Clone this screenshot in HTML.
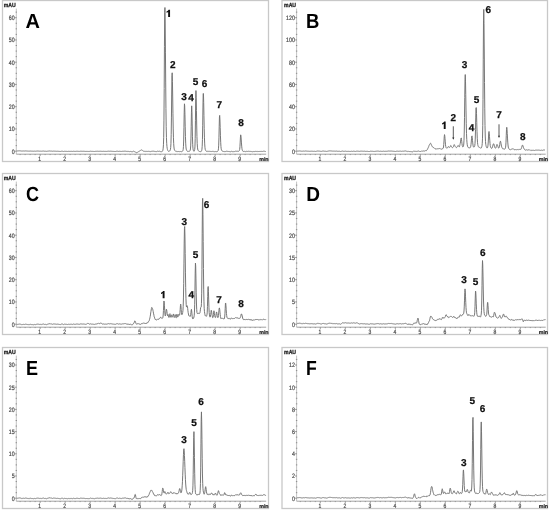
<!DOCTYPE html>
<html><head><meta charset="utf-8"><style>
html,body{margin:0;padding:0;background:#fff;}
body{width:550px;height:510px;overflow:hidden;}
svg{display:block;filter:grayscale(1);}
text{font-family:"Liberation Sans", sans-serif;text-rendering:geometricPrecision;}
.mau{font-size:5.9px;font-weight:bold;fill:#222;stroke:#222;stroke-width:0.3;}
.big{font-size:20.5px;font-weight:bold;fill:#000;}
.tl{font-size:6.3px;fill:#4a4a4a;stroke:#4a4a4a;stroke-width:0.2;}
.minl{font-size:5.3px;font-weight:bold;fill:#222;stroke:#222;stroke-width:0.2;}
.pl{font-size:10px;font-weight:bold;fill:#111;stroke:#111;stroke-width:0.25;}
.ax{stroke:#999;stroke-width:0.9;}
.yax{stroke:#bbb;stroke-width:0.9;}
.tk{stroke:#777;stroke-width:0.7;fill:none;}
.tr{stroke:#707070;stroke-width:0.95;fill:none;stroke-linejoin:round;}
.arw{stroke:#222;stroke-width:0.75;}
</style></head><body>
<svg width="550" height="510" viewBox="0 0 550 510">
<rect width="550" height="510" fill="#fff"/>
<rect x="2.50" y="0.50" width="266.00" height="161" fill="none" stroke="#c8c8c8" stroke-width="1.3"/>
<text transform="translate(3.80 7.40) scale(0.87 1)" class="mau">mAU</text>
<text transform="translate(25.60 28.00) scale(0.975 1)" class="big">A</text>
<line x1="16.30" y1="8.60" x2="16.30" y2="154.20" class="yax"/>
<text transform="translate(14.60 20.00) scale(0.84 1)" class="tl" text-anchor="end">60</text>
<text transform="translate(14.60 42.25) scale(0.84 1)" class="tl" text-anchor="end">50</text>
<text transform="translate(14.60 64.50) scale(0.84 1)" class="tl" text-anchor="end">40</text>
<text transform="translate(14.60 86.75) scale(0.84 1)" class="tl" text-anchor="end">30</text>
<text transform="translate(14.60 109.00) scale(0.84 1)" class="tl" text-anchor="end">20</text>
<text transform="translate(14.60 131.25) scale(0.84 1)" class="tl" text-anchor="end">10</text>
<text transform="translate(14.60 153.50) scale(0.84 1)" class="tl" text-anchor="end">0</text>
<line x1="16.30" y1="154.20" x2="266.20" y2="154.20" class="ax"/>
<text transform="translate(39.70 160.80) scale(0.8 1)" class="tl" text-anchor="middle">1</text>
<text transform="translate(64.70 160.80) scale(0.8 1)" class="tl" text-anchor="middle">2</text>
<text transform="translate(89.70 160.80) scale(0.8 1)" class="tl" text-anchor="middle">3</text>
<text transform="translate(114.70 160.80) scale(0.8 1)" class="tl" text-anchor="middle">4</text>
<text transform="translate(139.70 160.80) scale(0.8 1)" class="tl" text-anchor="middle">5</text>
<text transform="translate(164.70 160.80) scale(0.8 1)" class="tl" text-anchor="middle">6</text>
<text transform="translate(189.70 160.80) scale(0.8 1)" class="tl" text-anchor="middle">7</text>
<text transform="translate(214.70 160.80) scale(0.8 1)" class="tl" text-anchor="middle">8</text>
<text transform="translate(239.70 160.80) scale(0.8 1)" class="tl" text-anchor="middle">9</text>
<path d="M14.70 17.70H16.70 M15.60 23.26H17.00 M15.60 28.83H17.00 M15.60 34.39H17.00 M14.70 39.95H16.70 M15.60 45.51H17.00 M15.60 51.08H17.00 M15.60 56.64H17.00 M14.70 62.20H16.70 M15.60 67.76H17.00 M15.60 73.33H17.00 M15.60 78.89H17.00 M14.70 84.45H16.70 M15.60 90.01H17.00 M15.60 95.58H17.00 M15.60 101.14H17.00 M14.70 106.70H16.70 M15.60 112.26H17.00 M15.60 117.82H17.00 M15.60 123.39H17.00 M14.70 128.95H16.70 M15.60 134.51H17.00 M15.60 140.07H17.00 M15.60 145.64H17.00 M14.70 151.20H16.70 M15.60 12.14H17.00 M40.15 154.20V156.00 M65.15 154.20V156.00 M90.15 154.20V156.00 M115.15 154.20V156.00 M140.15 154.20V156.00 M165.15 154.20V156.00 M190.15 154.20V156.00 M215.15 154.20V156.00 M240.15 154.20V156.00 M20.15 154.20V155.10 M25.15 154.20V155.10 M30.15 154.20V155.10 M35.15 154.20V155.10 M45.15 154.20V155.10 M50.15 154.20V155.10 M55.15 154.20V155.10 M60.15 154.20V155.10 M70.15 154.20V155.10 M75.15 154.20V155.10 M80.15 154.20V155.10 M85.15 154.20V155.10 M95.15 154.20V155.10 M100.15 154.20V155.10 M105.15 154.20V155.10 M110.15 154.20V155.10 M120.15 154.20V155.10 M125.15 154.20V155.10 M130.15 154.20V155.10 M135.15 154.20V155.10 M145.15 154.20V155.10 M150.15 154.20V155.10 M155.15 154.20V155.10 M160.15 154.20V155.10 M170.15 154.20V155.10 M175.15 154.20V155.10 M180.15 154.20V155.10 M185.15 154.20V155.10 M195.15 154.20V155.10 M200.15 154.20V155.10 M205.15 154.20V155.10 M210.15 154.20V155.10 M220.15 154.20V155.10 M225.15 154.20V155.10 M230.15 154.20V155.10 M235.15 154.20V155.10 M245.15 154.20V155.10 M250.15 154.20V155.10 M255.15 154.20V155.10 M260.15 154.20V155.10" class="tk"/>
<text x="259.20" y="160.80" class="minl">min</text>
<path d="M16.70 150.98 L16.95 150.93 L17.20 150.97 L17.45 150.92 L17.70 150.94 L17.95 150.94 L18.20 150.89 L18.45 150.92 L18.70 150.87 L18.95 150.89 L19.20 150.86 L19.45 150.83 L19.70 150.86 L19.95 150.94 L20.20 150.91 L20.45 150.89 L20.70 150.94 L20.95 151.02 L21.20 151.04 L21.45 151.02 L21.70 151.10 L21.95 151.02 L22.20 151.08 L22.45 151.04 L22.70 150.99 L22.95 150.95 L23.20 150.94 L23.45 151.01 L23.70 150.97 L23.95 151.00 L24.20 151.03 L24.45 151.02 L24.70 151.04 L24.95 150.98 L25.20 150.93 L25.45 150.92 L25.70 150.97 L25.95 150.98 L26.20 150.97 L26.45 151.01 L26.70 151.01 L26.95 151.00 L27.20 151.06 L27.45 151.09 L27.70 151.05 L27.95 151.07 L28.20 151.08 L28.45 151.13 L28.70 151.16 L28.95 151.11 L29.20 151.18 L29.45 151.11 L29.70 151.09 L29.95 151.13 L30.20 151.08 L30.45 151.08 L30.70 151.02 L30.95 151.06 L31.20 151.11 L31.45 151.12 L31.70 151.17 L31.95 151.13 L32.20 151.16 L32.45 151.16 L32.70 151.17 L32.95 151.15 L33.20 151.19 L33.45 151.24 L33.70 151.22 L33.95 151.22 L34.20 151.14 L34.45 151.17 L34.70 151.18 L34.95 151.24 L35.20 151.27 L35.45 151.21 L35.70 151.18 L35.95 151.20 L36.20 151.12 L36.45 151.12 L36.70 151.08 L36.95 151.03 L37.20 150.99 L37.45 151.06 L37.70 151.03 L37.95 151.02 L38.20 151.03 L38.45 151.11 L38.70 151.06 L38.95 151.07 L39.20 151.10 L39.45 151.17 L39.70 151.21 L39.95 151.26 L40.20 151.21 L40.45 151.19 L40.70 151.16 L40.95 151.22 L41.20 151.28 L41.45 151.21 L41.70 151.16 L41.95 151.12 L42.20 151.10 L42.45 151.11 L42.70 151.14 L42.95 151.12 L43.20 151.06 L43.45 151.07 L43.70 151.08 L43.95 151.11 L44.20 151.19 L44.45 151.22 L44.70 151.22 L44.95 151.23 L45.20 151.25 L45.45 151.18 L45.70 151.24 L45.95 151.28 L46.20 151.32 L46.45 151.34 L46.70 151.30 L46.95 151.27 L47.20 151.20 L47.45 151.22 L47.70 151.16 L47.95 151.11 L48.20 151.09 L48.45 151.07 L48.70 151.08 L48.95 151.05 L49.20 151.01 L49.45 151.01 L49.70 150.99 L49.95 151.02 L50.20 151.00 L50.45 151.10 L50.70 151.15 L50.95 151.11 L51.20 151.11 L51.45 151.11 L51.70 151.12 L51.95 151.09 L52.20 151.17 L52.45 151.26 L52.70 151.26 L52.95 151.25 L53.20 151.20 L53.45 151.15 L53.70 151.15 L53.95 151.14 L54.20 151.21 L54.45 151.18 L54.70 151.13 L54.95 151.22 L55.20 151.23 L55.45 151.19 L55.70 151.22 L55.95 151.16 L56.20 151.19 L56.45 151.28 L56.70 151.33 L56.95 151.35 L57.20 151.30 L57.45 151.28 L57.70 151.23 L57.95 151.29 L58.20 151.29 L58.45 151.33 L58.70 151.30 L58.95 151.26 L59.20 151.31 L59.45 151.38 L59.70 151.42 L59.95 151.44 L60.20 151.46 L60.45 151.46 L60.70 151.39 L60.95 151.38 L61.20 151.34 L61.45 151.26 L61.70 151.20 L61.95 151.19 L62.20 151.18 L62.45 151.23 L62.70 151.31 L62.95 151.30 L63.20 151.37 L63.45 151.43 L63.70 151.47 L63.95 151.42 L64.20 151.35 L64.45 151.30 L64.70 151.26 L64.95 151.23 L65.20 151.26 L65.45 151.33 L65.70 151.37 L65.95 151.36 L66.20 151.37 L66.45 151.40 L66.70 151.32 L66.95 151.34 L67.20 151.40 L67.45 151.42 L67.70 151.43 L67.95 151.41 L68.20 151.34 L68.45 151.38 L68.70 151.34 L68.95 151.38 L69.20 151.43 L69.45 151.39 L69.70 151.36 L69.95 151.42 L70.20 151.43 L70.45 151.36 L70.70 151.30 L70.95 151.25 L71.20 151.32 L71.45 151.37 L71.70 151.30 L71.95 151.35 L72.20 151.42 L72.45 151.42 L72.70 151.38 L72.95 151.37 L73.20 151.31 L73.45 151.24 L73.70 151.32 L73.95 151.35 L74.20 151.34 L74.45 151.40 L74.70 151.38 L74.95 151.42 L75.20 151.45 L75.45 151.38 L75.70 151.33 L75.95 151.30 L76.20 151.27 L76.45 151.29 L76.70 151.26 L76.95 151.26 L77.20 151.22 L77.45 151.30 L77.70 151.29 L77.95 151.29 L78.20 151.31 L78.45 151.37 L78.70 151.35 L78.95 151.41 L79.20 151.39 L79.45 151.38 L79.70 151.37 L79.95 151.30 L80.20 151.29 L80.45 151.26 L80.70 151.20 L80.95 151.27 L81.20 151.23 L81.45 151.25 L81.70 151.30 L81.95 151.31 L82.20 151.29 L82.45 151.30 L82.70 151.32 L82.95 151.36 L83.20 151.30 L83.45 151.31 L83.70 151.28 L83.95 151.26 L84.20 151.31 L84.45 151.32 L84.70 151.33 L84.95 151.37 L85.20 151.42 L85.45 151.40 L85.70 151.40 L85.95 151.39 L86.20 151.38 L86.45 151.40 L86.70 151.38 L86.95 151.38 L87.20 151.37 L87.45 151.42 L87.70 151.44 L87.95 151.47 L88.20 151.51 L88.45 151.44 L88.70 151.43 L88.95 151.47 L89.20 151.50 L89.45 151.41 L89.70 151.34 L89.95 151.34 L90.20 151.28 L90.45 151.25 L90.70 151.21 L90.95 151.26 L91.20 151.32 L91.45 151.38 L91.70 151.32 L91.95 151.36 L92.20 151.38 L92.45 151.32 L92.70 151.38 L92.95 151.44 L93.20 151.38 L93.45 151.44 L93.70 151.41 L93.95 151.39 L94.20 151.45 L94.45 151.48 L94.70 151.41 L94.95 151.38 L95.20 151.38 L95.45 151.35 L95.70 151.31 L95.95 151.29 L96.20 151.33 L96.45 151.27 L96.70 151.29 L96.95 151.30 L97.20 151.24 L97.45 151.24 L97.70 151.28 L97.95 151.29 L98.20 151.24 L98.45 151.33 L98.70 151.38 L98.95 151.44 L99.20 151.37 L99.45 151.33 L99.70 151.27 L99.95 151.33 L100.20 151.30 L100.45 151.26 L100.70 151.27 L100.95 151.34 L101.20 151.39 L101.45 151.35 L101.70 151.30 L101.95 151.37 L102.20 151.38 L102.45 151.40 L102.70 151.34 L102.95 151.28 L103.20 151.32 L103.45 151.32 L103.70 151.26 L103.95 151.35 L104.20 151.37 L104.45 151.41 L104.70 151.34 L104.95 151.40 L105.20 151.33 L105.45 151.39 L105.70 151.38 L105.95 151.35 L106.20 151.36 L106.45 151.42 L106.70 151.38 L106.95 151.32 L107.20 151.33 L107.45 151.30 L107.70 151.26 L107.95 151.23 L108.20 151.19 L108.45 151.19 L108.70 151.19 L108.95 151.20 L109.20 151.27 L109.45 151.26 L109.70 151.28 L109.95 151.25 L110.20 151.25 L110.45 151.21 L110.70 151.20 L110.95 151.17 L111.20 151.24 L111.45 151.28 L111.70 151.25 L111.95 151.27 L112.20 151.35 L112.45 151.30 L112.70 151.36 L112.95 151.35 L113.20 151.36 L113.45 151.41 L113.70 151.39 L113.95 151.38 L114.20 151.41 L114.45 151.47 L114.70 151.43 L114.95 151.47 L115.20 151.48 L115.45 151.48 L115.70 151.44 L115.95 151.41 L116.20 151.34 L116.45 151.29 L116.70 151.25 L116.95 151.31 L117.20 151.29 L117.45 151.26 L117.70 151.22 L117.95 151.30 L118.20 151.37 L118.45 151.40 L118.70 151.36 L118.95 151.33 L119.20 151.31 L119.45 151.32 L119.70 151.28 L119.95 151.29 L120.20 151.28 L120.45 151.37 L120.70 151.44 L120.95 151.43 L121.20 151.39 L121.45 151.45 L121.70 151.41 L121.95 151.39 L122.20 151.31 L122.45 151.31 L122.70 151.32 L122.95 151.34 L123.20 151.30 L123.45 151.32 L123.70 151.26 L123.95 151.25 L124.20 151.22 L124.45 151.24 L124.70 151.20 L124.95 151.17 L125.20 151.19 L125.45 151.19 L125.70 151.24 L125.95 151.28 L126.20 151.33 L126.45 151.37 L126.70 151.40 L126.95 151.46 L127.20 151.41 L127.45 151.35 L127.70 151.51 L127.95 151.38 L128.20 151.45 L128.45 151.49 L128.70 151.32 L128.95 151.44 L129.20 151.56 L129.45 151.57 L129.70 151.61 L129.95 151.67 L130.20 151.50 L130.45 151.48 L130.70 151.47 L130.95 151.56 L131.20 151.63 L131.45 151.68 L131.70 151.65 L131.95 151.73 L132.20 151.72 L132.45 151.72 L132.70 151.57 L132.95 151.39 L133.20 151.29 L133.45 151.28 L133.70 151.21 L133.95 151.40 L134.20 151.49 L134.45 151.61 L134.70 151.74 L134.95 151.90 L135.20 152.02 L135.45 151.99 L135.70 152.26 L135.95 152.48 L136.20 152.57 L136.45 152.64 L136.70 152.71 L136.95 152.52 L137.20 152.53 L137.45 152.33 L137.70 152.07 L137.95 151.87 L138.20 151.83 L138.45 151.60 L138.70 151.56 L138.95 151.57 L139.20 151.39 L139.45 151.16 L139.70 150.94 L139.95 150.78 L140.20 150.63 L140.45 150.43 L140.70 150.28 L140.95 150.02 L141.20 149.89 L141.45 149.89 L141.70 150.11 L141.95 150.20 L142.20 150.42 L142.45 150.45 L142.70 150.52 L142.95 150.66 L143.20 150.90 L143.45 151.10 L143.70 151.25 L143.95 151.24 L144.20 151.29 L144.45 151.32 L144.70 151.33 L144.95 151.23 L145.20 151.39 L145.45 151.30 L145.70 151.48 L145.95 151.60 L146.20 151.41 L146.45 151.40 L146.70 151.50 L146.95 151.63 L147.20 151.57 L147.45 151.47 L147.70 151.36 L147.95 151.52 L148.20 151.40 L148.45 151.43 L148.70 151.31 L148.95 151.34 L149.20 151.50 L149.45 151.36 L149.70 151.48 L149.95 151.47 L150.20 151.58 L150.45 151.61 L150.70 151.49 L150.95 151.60 L151.20 151.56 L151.45 151.38 L151.70 151.23 L151.95 151.26 L152.20 151.28 L152.45 151.24 L152.70 151.16 L152.95 151.16 L153.20 151.15 L153.45 151.31 L153.70 151.18 L153.95 151.30 L154.20 151.43 L154.45 151.31 L154.70 151.47 L154.95 151.53 L155.20 151.63 L155.45 151.52 L155.70 151.46 L155.95 151.42 L156.20 151.58 L156.45 151.57 L156.70 151.50 L156.95 151.46 L157.20 151.38 L157.45 151.24 L157.70 151.15 L157.95 151.31 L158.20 151.26 L158.45 151.43 L158.70 151.35 L158.95 151.29 L159.20 151.32 L159.45 151.24 L159.70 151.24 L159.95 151.42 L160.20 151.54 L160.45 151.62 L160.70 151.62 L160.95 151.71 L161.20 151.79 L161.45 151.73 L161.70 151.72 L161.95 151.48 L162.20 151.44 L162.45 151.18 L162.70 150.79 L162.95 149.95 L163.20 148.23 L163.45 144.76 L163.70 137.32 L163.95 120.13 L164.20 88.55 L164.45 46.33 L164.70 12.44 L164.95 7.52 L165.20 23.99 L165.45 52.13 L165.70 82.95 L165.95 108.72 L166.20 126.69 L166.45 137.47 L166.70 143.34 L166.95 146.49 L167.20 148.28 L167.45 149.58 L167.70 150.31 L167.95 150.67 L168.20 151.11 L168.45 151.42 L168.70 151.45 L168.95 151.35 L169.20 151.26 L169.45 151.12 L169.70 151.00 L169.95 150.67 L170.20 150.19 L170.45 149.29 L170.70 147.58 L170.95 143.61 L171.20 134.39 L171.45 117.10 L171.70 94.04 L171.95 75.57 L172.20 72.79 L172.45 81.66 L172.70 96.97 L172.95 113.75 L173.20 128.06 L173.45 137.76 L173.70 143.70 L173.95 147.03 L174.20 148.92 L174.45 149.82 L174.70 150.37 L174.95 150.69 L175.20 150.94 L175.45 151.10 L175.70 151.36 L175.95 151.52 L176.20 151.63 L176.45 151.45 L176.70 151.30 L176.95 151.40 L177.20 151.53 L177.45 151.50 L177.70 151.52 L177.95 151.34 L178.20 151.33 L178.45 151.48 L178.70 151.58 L178.95 151.66 L179.20 151.77 L179.45 151.62 L179.70 151.46 L179.95 151.34 L180.20 151.37 L180.45 151.44 L180.70 151.58 L180.95 151.62 L181.20 151.63 L181.45 151.68 L181.70 151.61 L181.95 151.57 L182.20 151.33 L182.45 151.30 L182.70 150.94 L182.95 150.55 L183.20 149.46 L183.45 146.62 L183.70 139.97 L183.95 127.73 L184.20 112.74 L184.45 103.80 L184.70 105.92 L184.95 114.71 L185.20 126.21 L185.45 136.32 L185.70 143.15 L185.95 146.97 L186.20 149.03 L186.45 149.90 L186.70 150.43 L186.95 150.79 L187.20 151.18 L187.45 151.34 L187.70 151.52 L187.95 151.52 L188.20 151.43 L188.45 151.35 L188.70 151.52 L188.95 151.56 L189.20 151.45 L189.45 151.22 L189.70 151.11 L189.95 150.90 L190.20 150.31 L190.45 148.98 L190.70 145.93 L190.95 138.88 L191.20 126.26 L191.45 112.19 L191.70 105.83 L191.95 111.31 L192.20 123.95 L192.45 136.18 L192.70 144.27 L192.95 148.26 L193.20 149.94 L193.45 150.60 L193.70 151.13 L193.95 151.19 L194.20 151.21 L194.45 150.70 L194.70 149.60 L194.95 146.91 L195.20 138.68 L195.45 120.79 L195.70 98.38 L195.95 90.57 L196.20 97.29 L196.45 110.62 L196.70 125.04 L196.95 136.46 L197.20 143.40 L197.45 147.17 L197.70 149.00 L197.95 150.17 L198.20 150.61 L198.45 150.82 L198.70 150.91 L198.95 151.05 L199.20 151.30 L199.45 151.47 L199.70 151.55 L199.95 151.69 L200.20 151.78 L200.45 151.65 L200.70 151.49 L200.95 151.56 L201.20 151.47 L201.45 150.99 L201.70 150.47 L201.95 149.24 L202.20 146.38 L202.45 139.47 L202.70 125.74 L202.95 107.04 L203.20 93.41 L203.45 93.59 L203.70 102.52 L203.95 115.36 L204.20 128.26 L204.45 137.84 L204.70 143.90 L204.95 147.40 L205.20 149.26 L205.45 150.16 L205.70 150.56 L205.95 150.90 L206.20 151.08 L206.45 151.36 L206.70 151.32 L206.95 151.33 L207.20 151.49 L207.45 151.34 L207.70 151.34 L207.95 151.46 L208.20 151.55 L208.45 151.38 L208.70 151.25 L208.95 151.15 L209.20 151.35 L209.45 151.29 L209.70 151.40 L209.95 151.54 L210.20 151.47 L210.45 151.40 L210.70 151.56 L210.95 151.57 L211.20 151.48 L211.45 151.54 L211.70 151.47 L211.95 151.39 L212.20 151.25 L212.45 151.37 L212.70 151.52 L212.95 151.55 L213.20 151.68 L213.45 151.48 L213.70 151.39 L213.95 151.40 L214.20 151.56 L214.45 151.68 L214.70 151.60 L214.95 151.50 L215.20 151.47 L215.45 151.46 L215.70 151.60 L215.95 151.47 L216.20 151.57 L216.45 151.62 L216.70 151.69 L216.95 151.72 L217.20 151.67 L217.45 151.50 L217.70 151.26 L217.95 150.91 L218.20 150.38 L218.45 148.80 L218.70 145.17 L218.95 137.82 L219.20 126.66 L219.45 116.99 L219.70 115.40 L219.95 119.99 L220.20 127.61 L220.45 135.79 L220.70 142.28 L220.95 146.56 L221.20 148.77 L221.45 149.85 L221.70 150.38 L221.95 150.78 L222.20 151.10 L222.45 151.23 L222.70 151.24 L222.95 151.29 L223.20 151.38 L223.45 151.46 L223.70 151.55 L223.95 151.64 L224.20 151.66 L224.45 151.50 L224.70 151.61 L224.95 151.51 L225.20 151.53 L225.45 151.47 L225.70 151.55 L225.95 151.44 L226.20 151.36 L226.45 151.30 L226.70 151.23 L226.95 151.40 L227.20 151.44 L227.45 151.39 L227.70 151.37 L227.95 151.55 L228.20 151.54 L228.45 151.44 L228.70 151.54 L228.95 151.58 L229.20 151.71 L229.45 151.54 L229.70 151.52 L229.95 151.61 L230.20 151.69 L230.45 151.78 L230.70 151.57 L230.95 151.49 L231.20 151.36 L231.45 151.29 L231.70 151.48 L231.95 151.50 L232.20 151.63 L232.45 151.56 L232.70 151.66 L232.95 151.61 L233.20 151.51 L233.45 151.59 L233.70 151.71 L233.95 151.54 L234.20 151.56 L234.45 151.58 L234.70 151.47 L234.95 151.43 L235.20 151.32 L235.45 151.26 L235.70 151.22 L235.95 151.31 L236.20 151.39 L236.45 151.31 L236.70 151.19 L236.95 151.19 L237.20 151.31 L237.45 151.24 L237.70 151.23 L237.95 151.18 L238.20 151.32 L238.45 151.35 L238.70 151.18 L238.95 150.99 L239.20 150.81 L239.45 150.42 L239.70 149.37 L239.95 146.66 L240.20 142.06 L240.45 137.13 L240.70 134.84 L240.95 135.99 L241.20 139.03 L241.45 142.93 L241.70 146.13 L241.95 148.46 L242.20 149.78 L242.45 150.49 L242.70 151.01 L242.95 151.37 L243.20 151.41 L243.45 151.37 L243.70 151.49 L243.95 151.41 L244.20 151.28 L244.45 151.45 L244.70 151.44 L244.95 151.55 L245.20 151.51 L245.45 151.63 L245.70 151.59 L245.95 151.46 L246.20 151.31 L246.45 151.36 L246.70 151.43 L246.95 151.57 L247.20 151.42 L247.45 151.48 L247.70 151.44 L247.95 151.45 L248.20 151.34 L248.45 151.30 L248.70 151.35 L248.95 151.51 L249.20 151.38 L249.45 151.40 L249.70 151.52 L249.95 151.66 L250.20 151.53 L250.45 151.40 L250.70 151.56 L250.95 151.70 L251.20 151.65 L251.45 151.48 L251.70 151.62 L251.95 151.55 L252.20 151.67 L252.45 151.67 L252.70 151.74 L252.95 151.58 L253.20 151.66 L253.45 151.53 L253.70 151.50 L253.95 151.61 L254.20 151.69 L254.45 151.55 L254.70 151.45 L254.95 151.42 L255.20 151.44 L255.45 151.42 L255.70 151.31 L255.95 151.27 L256.20 151.38 L256.45 151.53 L256.70 151.38 L256.95 151.42 L257.20 151.52 L257.45 151.37 L257.70 151.50 L257.95 151.38 L258.20 151.43 L258.45 151.46 L258.70 151.51 L258.95 151.44 L259.20 151.43 L259.45 151.47 L259.70 151.45 L259.95 151.51 L260.20 151.49 L260.45 151.47 L260.70 151.33 L260.95 151.40 L261.20 151.41 L261.45 151.35 L261.70 151.46 L261.95 151.56 L262.20 151.53 L262.45 151.42 L262.70 151.43 L262.95 151.32 L263.20 151.24 L263.45 151.27 L263.70 151.18 L263.95 151.23 L264.20 151.29 L264.45 151.18 L264.70 151.29 L264.95 151.20 L265.20 151.33 L265.45 151.45 L265.70 151.47 L265.95 151.33" class="tr"/>
<path d="M168.15 17.10L170.05 17.10L170.05 9.80L168.65 9.80Q168.10 11.10 166.50 11.50L166.50 12.80Q167.40 12.60 168.15 12.00Z" fill="#111"/>
<text x="172.85" y="68.45" class="pl" text-anchor="middle">2</text>
<text x="184.05" y="99.85" class="pl" text-anchor="middle">3</text>
<text x="191.05" y="100.85" class="pl" text-anchor="middle">4</text>
<text x="195.55" y="85.15" class="pl" text-anchor="middle">5</text>
<text x="204.45" y="87.15" class="pl" text-anchor="middle">6</text>
<text x="219.35" y="108.05" class="pl" text-anchor="middle">7</text>
<text x="241.05" y="126.45" class="pl" text-anchor="middle">8</text>
<rect x="282.00" y="0.50" width="265.50" height="161" fill="none" stroke="#c8c8c8" stroke-width="1.3"/>
<text transform="translate(284.10 7.40) scale(0.87 1)" class="mau">mAU</text>
<text transform="translate(306.00 28.00) scale(0.900 1)" class="big">B</text>
<line x1="296.60" y1="8.60" x2="296.60" y2="154.20" class="yax"/>
<text transform="translate(294.90 20.00) scale(0.84 1)" class="tl" text-anchor="end">120</text>
<text transform="translate(294.90 42.25) scale(0.84 1)" class="tl" text-anchor="end">100</text>
<text transform="translate(294.90 64.50) scale(0.84 1)" class="tl" text-anchor="end">80</text>
<text transform="translate(294.90 86.75) scale(0.84 1)" class="tl" text-anchor="end">60</text>
<text transform="translate(294.90 109.00) scale(0.84 1)" class="tl" text-anchor="end">40</text>
<text transform="translate(294.90 131.25) scale(0.84 1)" class="tl" text-anchor="end">20</text>
<text transform="translate(294.90 153.50) scale(0.84 1)" class="tl" text-anchor="end">0</text>
<line x1="296.60" y1="154.20" x2="545.70" y2="154.20" class="ax"/>
<text transform="translate(319.85 160.80) scale(0.8 1)" class="tl" text-anchor="middle">1</text>
<text transform="translate(344.85 160.80) scale(0.8 1)" class="tl" text-anchor="middle">2</text>
<text transform="translate(369.85 160.80) scale(0.8 1)" class="tl" text-anchor="middle">3</text>
<text transform="translate(394.85 160.80) scale(0.8 1)" class="tl" text-anchor="middle">4</text>
<text transform="translate(419.85 160.80) scale(0.8 1)" class="tl" text-anchor="middle">5</text>
<text transform="translate(444.85 160.80) scale(0.8 1)" class="tl" text-anchor="middle">6</text>
<text transform="translate(469.85 160.80) scale(0.8 1)" class="tl" text-anchor="middle">7</text>
<text transform="translate(494.85 160.80) scale(0.8 1)" class="tl" text-anchor="middle">8</text>
<text transform="translate(519.85 160.80) scale(0.8 1)" class="tl" text-anchor="middle">9</text>
<path d="M295.00 17.70H297.00 M295.90 23.26H297.30 M295.90 28.83H297.30 M295.90 34.39H297.30 M295.00 39.95H297.00 M295.90 45.51H297.30 M295.90 51.08H297.30 M295.90 56.64H297.30 M295.00 62.20H297.00 M295.90 67.76H297.30 M295.90 73.33H297.30 M295.90 78.89H297.30 M295.00 84.45H297.00 M295.90 90.01H297.30 M295.90 95.58H297.30 M295.90 101.14H297.30 M295.00 106.70H297.00 M295.90 112.26H297.30 M295.90 117.82H297.30 M295.90 123.39H297.30 M295.00 128.95H297.00 M295.90 134.51H297.30 M295.90 140.07H297.30 M295.90 145.64H297.30 M295.00 151.20H297.00 M295.90 12.14H297.30 M320.30 154.20V156.00 M345.30 154.20V156.00 M370.30 154.20V156.00 M395.30 154.20V156.00 M420.30 154.20V156.00 M445.30 154.20V156.00 M470.30 154.20V156.00 M495.30 154.20V156.00 M520.30 154.20V156.00 M300.30 154.20V155.10 M305.30 154.20V155.10 M310.30 154.20V155.10 M315.30 154.20V155.10 M325.30 154.20V155.10 M330.30 154.20V155.10 M335.30 154.20V155.10 M340.30 154.20V155.10 M350.30 154.20V155.10 M355.30 154.20V155.10 M360.30 154.20V155.10 M365.30 154.20V155.10 M375.30 154.20V155.10 M380.30 154.20V155.10 M385.30 154.20V155.10 M390.30 154.20V155.10 M400.30 154.20V155.10 M405.30 154.20V155.10 M410.30 154.20V155.10 M415.30 154.20V155.10 M425.30 154.20V155.10 M430.30 154.20V155.10 M435.30 154.20V155.10 M440.30 154.20V155.10 M450.30 154.20V155.10 M455.30 154.20V155.10 M460.30 154.20V155.10 M465.30 154.20V155.10 M475.30 154.20V155.10 M480.30 154.20V155.10 M485.30 154.20V155.10 M490.30 154.20V155.10 M500.30 154.20V155.10 M505.30 154.20V155.10 M510.30 154.20V155.10 M515.30 154.20V155.10 M525.30 154.20V155.10 M530.30 154.20V155.10 M535.30 154.20V155.10 M540.30 154.20V155.10" class="tk"/>
<text x="538.70" y="160.80" class="minl">min</text>
<path d="M297.00 151.16 L297.25 151.09 L297.50 151.15 L297.75 151.07 L298.00 151.10 L298.25 151.09 L298.50 151.02 L298.75 151.06 L299.00 150.99 L299.25 151.02 L299.50 150.96 L299.75 150.92 L300.00 150.96 L300.25 151.08 L300.50 151.02 L300.75 151.00 L301.00 151.07 L301.25 151.19 L301.50 151.21 L301.75 151.19 L302.00 151.29 L302.25 151.18 L302.50 151.26 L302.75 151.20 L303.00 151.13 L303.25 151.06 L303.50 151.05 L303.75 151.15 L304.00 151.09 L304.25 151.13 L304.50 151.18 L304.75 151.16 L305.00 151.18 L305.25 151.09 L305.50 151.02 L305.75 150.99 L306.00 151.07 L306.25 151.08 L306.50 151.07 L306.75 151.12 L307.00 151.12 L307.25 151.10 L307.50 151.18 L307.75 151.23 L308.00 151.17 L308.25 151.20 L308.50 151.20 L308.75 151.29 L309.00 151.32 L309.25 151.25 L309.50 151.35 L309.75 151.24 L310.00 151.21 L310.25 151.27 L310.50 151.18 L310.75 151.19 L311.00 151.09 L311.25 151.15 L311.50 151.22 L311.75 151.24 L312.00 151.31 L312.25 151.25 L312.50 151.29 L312.75 151.29 L313.00 151.29 L313.25 151.27 L313.50 151.33 L313.75 151.40 L314.00 151.36 L314.25 151.37 L314.50 151.24 L314.75 151.28 L315.00 151.30 L315.25 151.39 L315.50 151.42 L315.75 151.34 L316.00 151.29 L316.25 151.31 L316.50 151.19 L316.75 151.18 L317.00 151.12 L317.25 151.06 L317.50 150.99 L317.75 151.10 L318.00 151.04 L318.25 151.02 L318.50 151.04 L318.75 151.15 L319.00 151.08 L319.25 151.09 L319.50 151.13 L319.75 151.23 L320.00 151.30 L320.25 151.36 L320.50 151.28 L320.75 151.25 L321.00 151.22 L321.25 151.30 L321.50 151.38 L321.75 151.27 L322.00 151.19 L322.25 151.14 L322.50 151.10 L322.75 151.12 L323.00 151.16 L323.25 151.12 L323.50 151.03 L323.75 151.05 L324.00 151.06 L324.25 151.11 L324.50 151.23 L324.75 151.27 L325.00 151.26 L325.25 151.28 L325.50 151.31 L325.75 151.19 L326.00 151.29 L326.25 151.33 L326.50 151.39 L326.75 151.42 L327.00 151.36 L327.25 151.31 L327.50 151.21 L327.75 151.24 L328.00 151.14 L328.25 151.07 L328.50 151.04 L328.75 151.00 L329.00 151.01 L329.25 150.96 L329.50 150.90 L329.75 150.89 L330.00 150.87 L330.25 150.91 L330.50 150.87 L330.75 151.03 L331.00 151.09 L331.25 151.04 L331.50 151.03 L331.75 151.03 L332.00 151.04 L332.25 151.00 L332.50 151.12 L332.75 151.25 L333.00 151.24 L333.25 151.23 L333.50 151.14 L333.75 151.07 L334.00 151.07 L334.25 151.05 L334.50 151.16 L334.75 151.10 L335.00 151.02 L335.25 151.16 L335.50 151.18 L335.75 151.12 L336.00 151.15 L336.25 151.06 L336.50 151.10 L336.75 151.23 L337.00 151.31 L337.25 151.34 L337.50 151.26 L337.75 151.23 L338.00 151.16 L338.25 151.23 L338.50 151.24 L338.75 151.30 L339.00 151.25 L339.25 151.19 L339.50 151.26 L339.75 151.36 L340.00 151.41 L340.25 151.44 L340.50 151.47 L340.75 151.48 L341.00 151.37 L341.25 151.35 L341.50 151.29 L341.75 151.18 L342.00 151.09 L342.25 151.07 L342.50 151.05 L342.75 151.13 L343.00 151.25 L343.25 151.24 L343.50 151.33 L343.75 151.42 L344.00 151.48 L344.25 151.40 L344.50 151.31 L344.75 151.24 L345.00 151.17 L345.25 151.12 L345.50 151.17 L345.75 151.27 L346.00 151.34 L346.25 151.31 L346.50 151.33 L346.75 151.38 L347.00 151.26 L347.25 151.29 L347.50 151.37 L347.75 151.41 L348.00 151.43 L348.25 151.38 L348.50 151.29 L348.75 151.34 L349.00 151.28 L349.25 151.34 L349.50 151.42 L349.75 151.36 L350.00 151.32 L350.25 151.40 L350.50 151.42 L350.75 151.31 L351.00 151.22 L351.25 151.15 L351.50 151.25 L351.75 151.32 L352.00 151.23 L352.25 151.30 L352.50 151.39 L352.75 151.40 L353.00 151.33 L353.25 151.33 L353.50 151.23 L353.75 151.13 L354.00 151.25 L354.25 151.28 L354.50 151.28 L354.75 151.37 L355.00 151.33 L355.25 151.39 L355.50 151.43 L355.75 151.33 L356.00 151.26 L356.25 151.22 L356.50 151.17 L356.75 151.20 L357.00 151.16 L357.25 151.16 L357.50 151.10 L357.75 151.22 L358.00 151.19 L358.25 151.19 L358.50 151.22 L358.75 151.32 L359.00 151.29 L359.25 151.37 L359.50 151.34 L359.75 151.33 L360.00 151.32 L360.25 151.20 L360.50 151.20 L360.75 151.14 L361.00 151.06 L361.25 151.16 L361.50 151.11 L361.75 151.13 L362.00 151.20 L362.25 151.23 L362.50 151.19 L362.75 151.21 L363.00 151.23 L363.25 151.30 L363.50 151.20 L363.75 151.23 L364.00 151.18 L364.25 151.14 L364.50 151.22 L364.75 151.23 L365.00 151.25 L365.25 151.31 L365.50 151.39 L365.75 151.35 L366.00 151.35 L366.25 151.33 L366.50 151.32 L366.75 151.35 L367.00 151.32 L367.25 151.32 L367.50 151.30 L367.75 151.39 L368.00 151.40 L368.25 151.45 L368.50 151.51 L368.75 151.41 L369.00 151.39 L369.25 151.46 L369.50 151.49 L369.75 151.37 L370.00 151.26 L370.25 151.25 L370.50 151.16 L370.75 151.12 L371.00 151.06 L371.25 151.14 L371.50 151.22 L371.75 151.31 L372.00 151.23 L372.25 151.28 L372.50 151.31 L372.75 151.22 L373.00 151.31 L373.25 151.40 L373.50 151.32 L373.75 151.40 L374.00 151.35 L374.25 151.33 L374.50 151.42 L374.75 151.46 L375.00 151.35 L375.25 151.32 L375.50 151.31 L375.75 151.27 L376.00 151.20 L376.25 151.17 L376.50 151.24 L376.75 151.14 L377.00 151.18 L377.25 151.18 L377.50 151.09 L377.75 151.09 L378.00 151.15 L378.25 151.18 L378.50 151.10 L378.75 151.24 L379.00 151.31 L379.25 151.40 L379.50 151.29 L379.75 151.23 L380.00 151.14 L380.25 151.23 L380.50 151.18 L380.75 151.12 L381.00 151.13 L381.25 151.25 L381.50 151.32 L381.75 151.26 L382.00 151.18 L382.25 151.29 L382.50 151.30 L382.75 151.34 L383.00 151.24 L383.25 151.15 L383.50 151.21 L383.75 151.21 L384.00 151.13 L384.25 151.25 L384.50 151.28 L384.75 151.35 L385.00 151.24 L385.25 151.32 L385.50 151.22 L385.75 151.31 L386.00 151.29 L386.25 151.25 L386.50 151.27 L386.75 151.36 L387.00 151.29 L387.25 151.21 L387.50 151.23 L387.75 151.18 L388.00 151.11 L388.25 151.07 L388.50 151.02 L388.75 151.00 L389.00 151.02 L389.25 151.03 L389.50 151.13 L389.75 151.11 L390.00 151.15 L390.25 151.10 L390.50 151.10 L390.75 151.03 L391.00 151.03 L391.25 150.97 L391.50 151.08 L391.75 151.13 L392.00 151.09 L392.25 151.13 L392.50 151.25 L392.75 151.17 L393.00 151.26 L393.25 151.25 L393.50 151.25 L393.75 151.33 L394.00 151.30 L394.25 151.29 L394.50 151.33 L394.75 151.42 L395.00 151.36 L395.25 151.42 L395.50 151.43 L395.75 151.43 L396.00 151.38 L396.25 151.33 L396.50 151.22 L396.75 151.15 L397.00 151.09 L397.25 151.18 L397.50 151.14 L397.75 151.10 L398.00 151.05 L398.25 151.17 L398.50 151.27 L398.75 151.31 L399.00 151.26 L399.25 151.21 L399.50 151.18 L399.75 151.19 L400.00 151.13 L400.25 151.15 L400.50 151.13 L400.75 151.26 L401.00 151.36 L401.25 151.36 L401.50 151.29 L401.75 151.39 L402.00 151.33 L402.25 151.29 L402.50 151.18 L402.75 151.17 L403.00 151.19 L403.25 151.21 L403.50 151.16 L403.75 151.19 L404.00 151.10 L404.25 151.09 L404.50 151.04 L404.75 151.06 L405.00 151.01 L405.25 150.96 L405.50 150.98 L405.75 150.99 L406.00 151.07 L406.25 151.12 L406.50 151.27 L406.75 151.35 L407.00 151.44 L407.25 151.59 L407.50 151.48 L407.75 151.36 L408.00 151.58 L408.25 151.35 L408.50 151.45 L408.75 151.48 L409.00 151.22 L409.25 151.40 L409.50 151.57 L409.75 151.57 L410.00 151.63 L410.25 151.71 L410.50 151.45 L410.75 151.43 L411.00 151.41 L411.25 151.54 L411.50 151.64 L411.75 151.73 L412.00 151.68 L412.25 151.79 L412.50 151.78 L412.75 151.77 L413.00 151.55 L413.25 151.27 L413.50 151.10 L413.75 151.07 L414.00 150.93 L414.25 151.16 L414.50 151.22 L414.75 151.29 L415.00 151.35 L415.25 151.43 L415.50 151.40 L415.75 151.14 L416.00 151.31 L416.25 151.43 L416.50 151.40 L416.75 151.40 L417.00 151.45 L417.25 151.21 L417.50 151.34 L417.75 151.22 L418.00 151.03 L418.25 150.97 L418.50 151.14 L418.75 151.03 L419.00 151.20 L419.25 151.45 L419.50 151.42 L419.75 151.34 L420.00 151.32 L420.25 151.40 L420.50 151.51 L420.75 151.52 L421.00 151.55 L421.25 151.29 L421.50 151.13 L421.75 151.04 L422.00 151.21 L422.25 151.13 L422.50 151.20 L422.75 150.98 L423.00 150.84 L423.25 150.81 L423.50 150.99 L423.75 151.14 L424.00 151.25 L424.25 151.11 L424.50 151.09 L424.75 151.04 L425.00 150.98 L425.25 150.74 L425.50 150.88 L425.75 150.63 L426.00 150.76 L426.25 150.78 L426.50 150.29 L426.75 150.03 L427.00 149.91 L427.25 149.73 L427.50 149.22 L427.75 148.60 L428.00 147.95 L428.25 147.65 L428.50 146.93 L428.75 146.42 L429.00 145.69 L429.25 145.18 L429.50 144.89 L429.75 144.18 L430.00 143.87 L430.25 143.44 L430.50 143.29 L430.75 143.38 L431.00 143.60 L431.25 144.44 L431.50 145.17 L431.75 145.67 L432.00 146.07 L432.25 146.59 L432.50 146.93 L432.75 147.09 L433.00 147.11 L433.25 147.29 L433.50 147.43 L433.75 147.81 L434.00 147.74 L434.25 148.05 L434.50 148.36 L434.75 148.27 L435.00 148.60 L435.25 148.76 L435.50 148.99 L435.75 148.88 L436.00 148.83 L436.25 148.78 L436.50 149.04 L436.75 149.04 L437.00 148.93 L437.25 148.87 L437.50 148.75 L437.75 148.54 L438.00 148.39 L438.25 148.62 L438.50 148.54 L438.75 148.78 L439.00 148.65 L439.25 148.54 L439.50 148.57 L439.75 148.44 L440.00 148.42 L440.25 148.69 L440.50 148.86 L440.75 148.96 L441.00 148.95 L441.25 149.08 L441.50 149.19 L441.75 149.08 L442.00 149.07 L442.25 148.73 L442.50 148.76 L442.75 148.59 L443.00 148.49 L443.25 148.11 L443.50 147.00 L443.75 144.56 L444.00 140.98 L444.25 136.54 L444.50 134.61 L444.75 135.67 L445.00 138.40 L445.25 141.84 L445.50 144.80 L445.75 146.42 L446.00 147.46 L446.25 147.83 L446.50 148.10 L446.75 148.18 L447.00 148.08 L447.25 147.93 L447.50 147.70 L447.75 147.65 L448.00 147.19 L448.25 146.61 L448.50 146.62 L448.75 146.96 L449.00 147.20 L449.25 147.35 L449.50 147.46 L449.75 147.34 L450.00 147.09 L450.25 146.46 L450.50 145.85 L450.75 145.50 L451.00 145.70 L451.25 146.30 L451.50 146.90 L451.75 147.25 L452.00 147.48 L452.25 147.63 L452.50 147.62 L452.75 147.52 L453.00 147.21 L453.25 146.83 L453.50 146.50 L453.75 145.47 L454.00 144.75 L454.25 144.62 L454.50 145.11 L454.75 145.58 L455.00 146.16 L455.25 146.61 L455.50 146.93 L455.75 147.10 L456.00 147.41 L456.25 147.56 L456.50 147.67 L456.75 147.29 L457.00 146.87 L457.25 146.64 L457.50 146.31 L457.75 145.74 L458.00 145.53 L458.25 145.42 L458.50 145.77 L458.75 146.43 L459.00 146.83 L459.25 146.90 L459.50 146.58 L459.75 145.54 L460.00 144.39 L460.25 143.31 L460.50 141.97 L460.75 139.95 L461.00 138.18 L461.25 138.00 L461.50 139.38 L461.75 141.65 L462.00 143.83 L462.25 145.57 L462.50 146.35 L462.75 146.93 L463.00 146.78 L463.25 146.62 L463.50 145.86 L463.75 144.07 L464.00 140.17 L464.25 132.00 L464.50 117.39 L464.75 97.50 L465.00 79.78 L465.25 74.55 L465.50 81.15 L465.75 94.58 L466.00 110.10 L466.25 123.67 L466.50 133.59 L466.75 139.46 L467.00 142.84 L467.25 144.75 L467.50 146.08 L467.75 146.80 L468.00 147.38 L468.25 147.59 L468.50 147.60 L468.75 147.57 L469.00 147.87 L469.25 147.97 L469.50 147.85 L469.75 147.61 L470.00 147.62 L470.25 147.60 L470.50 147.21 L470.75 146.22 L471.00 144.57 L471.25 142.04 L471.50 138.73 L471.75 136.22 L472.00 135.88 L472.25 137.50 L472.50 140.32 L472.75 142.92 L473.00 145.14 L473.25 146.45 L473.50 146.96 L473.75 146.96 L474.00 147.19 L474.25 146.91 L474.50 146.69 L474.75 145.74 L475.00 143.68 L475.25 139.11 L475.50 129.63 L475.75 117.08 L476.00 107.69 L476.25 107.65 L476.50 113.55 L476.75 122.48 L477.00 131.36 L477.25 138.27 L477.50 142.28 L477.75 144.58 L478.00 145.68 L478.25 146.62 L478.50 146.83 L478.75 146.88 L479.00 146.89 L479.25 147.03 L479.50 147.37 L479.75 147.63 L480.00 147.75 L480.25 147.99 L480.50 148.14 L480.75 147.97 L481.00 147.73 L481.25 147.82 L481.50 147.62 L481.75 146.77 L482.00 145.73 L482.25 143.40 L482.50 138.19 L482.75 125.69 L483.00 99.49 L483.25 59.19 L483.50 20.90 L483.75 9.39 L484.00 23.49 L484.25 51.01 L484.50 82.39 L484.75 108.20 L485.00 125.69 L485.25 136.02 L485.50 141.55 L485.75 144.32 L486.00 145.69 L486.25 146.67 L486.50 147.23 L486.75 147.80 L487.00 147.79 L487.25 147.73 L487.50 147.73 L487.75 146.87 L488.00 145.25 L488.25 142.00 L488.50 137.02 L488.75 132.37 L489.00 131.47 L489.25 133.21 L489.50 136.76 L489.75 140.23 L490.00 143.38 L490.25 145.66 L490.50 146.81 L490.75 147.40 L491.00 148.02 L491.25 148.26 L491.50 148.24 L491.75 148.38 L492.00 148.18 L492.25 147.76 L492.50 146.89 L492.75 146.05 L493.00 145.04 L493.25 144.04 L493.50 143.82 L493.75 143.78 L494.00 144.31 L494.25 145.23 L494.50 146.42 L494.75 147.43 L495.00 147.93 L495.25 148.13 L495.50 148.20 L495.75 148.00 L496.00 147.64 L496.25 146.51 L496.50 145.50 L496.75 144.62 L497.00 144.35 L497.25 144.64 L497.50 145.23 L497.75 145.91 L498.00 146.66 L498.25 147.34 L498.50 148.02 L498.75 148.07 L499.00 147.86 L499.25 147.46 L499.50 146.21 L499.75 144.37 L500.00 142.44 L500.25 141.35 L500.50 141.18 L500.75 142.11 L501.00 143.44 L501.25 145.02 L501.50 146.17 L501.75 147.03 L502.00 147.64 L502.25 148.18 L502.50 148.60 L502.75 148.74 L503.00 148.69 L503.25 148.73 L503.50 148.84 L503.75 148.95 L504.00 149.08 L504.25 149.21 L504.50 149.22 L504.75 148.91 L505.00 148.92 L505.25 148.48 L505.50 147.80 L505.75 145.97 L506.00 142.17 L506.25 135.67 L506.50 129.31 L506.75 127.31 L507.00 129.15 L507.25 133.38 L507.50 138.07 L507.75 142.07 L508.00 144.97 L508.25 147.05 L508.50 148.06 L508.75 148.47 L509.00 148.95 L509.25 149.21 L509.50 149.55 L509.75 149.38 L510.00 149.41 L510.25 149.59 L510.50 149.75 L510.75 149.89 L511.00 149.58 L511.25 149.42 L511.50 149.17 L511.75 148.95 L512.00 149.09 L512.25 148.95 L512.50 148.98 L512.75 148.76 L513.00 148.88 L513.25 148.87 L513.50 148.87 L513.75 149.20 L514.00 149.59 L514.25 149.52 L514.50 149.70 L514.75 149.84 L515.00 149.74 L515.25 149.71 L515.50 149.57 L515.75 149.48 L516.00 149.44 L516.25 149.57 L516.50 149.70 L516.75 149.59 L517.00 149.41 L517.25 149.42 L517.50 149.59 L517.75 149.50 L518.00 149.48 L518.25 149.42 L518.50 149.66 L518.75 149.73 L519.00 149.55 L519.25 149.43 L519.50 149.48 L519.75 149.59 L520.00 149.71 L520.25 149.54 L520.50 149.40 L520.75 149.45 L521.00 149.20 L521.25 148.66 L521.50 147.89 L521.75 147.21 L522.00 146.13 L522.25 145.42 L522.50 145.07 L522.75 145.24 L523.00 145.95 L523.25 146.90 L523.50 147.57 L523.75 148.15 L524.00 148.89 L524.25 149.20 L524.50 149.30 L524.75 149.75 L525.00 149.83 L525.25 150.06 L525.50 150.03 L525.75 150.22 L526.00 150.17 L526.25 149.98 L526.50 149.76 L526.75 149.85 L527.00 149.96 L527.25 150.18 L527.50 149.96 L527.75 150.04 L528.00 149.99 L528.25 150.01 L528.50 149.85 L528.75 149.80 L529.00 149.87 L529.25 150.12 L529.50 149.93 L529.75 149.96 L530.00 150.14 L530.25 150.36 L530.50 150.17 L530.75 149.98 L531.00 150.23 L531.25 150.44 L531.50 150.37 L531.75 150.12 L532.00 150.33 L532.25 150.24 L532.50 150.42 L532.75 150.43 L533.00 150.54 L533.25 150.30 L533.50 150.42 L533.75 150.24 L534.00 150.19 L534.25 150.36 L534.50 150.48 L534.75 150.28 L535.00 150.13 L535.25 150.10 L535.50 150.14 L535.75 150.10 L536.00 149.95 L536.25 149.89 L536.50 150.07 L536.75 150.29 L537.00 150.07 L537.25 150.14 L537.50 150.29 L537.75 150.06 L538.00 150.27 L538.25 150.09 L538.50 150.18 L538.75 150.22 L539.00 150.30 L539.25 150.21 L539.50 150.19 L539.75 150.25 L540.00 150.23 L540.25 150.33 L540.50 150.30 L540.75 150.28 L541.00 150.06 L541.25 150.18 L541.50 150.21 L541.75 150.11 L542.00 150.29 L542.25 150.44 L542.50 150.40 L542.75 150.24 L543.00 150.26 L543.25 150.09 L543.50 149.98 L543.75 150.03 L544.00 149.90 L544.25 149.98 L544.50 150.07 L544.75 149.92 L545.00 150.08" class="tr"/>
<path d="M443.75 128.90L445.65 128.90L445.65 121.60L444.25 121.60Q443.70 122.90 442.10 123.30L442.10 124.60Q443.00 124.40 443.75 123.80Z" fill="#111"/>
<text x="453.35" y="121.45" class="pl" text-anchor="middle">2</text>
<text x="464.45" y="68.45" class="pl" text-anchor="middle">3</text>
<text x="471.45" y="130.85" class="pl" text-anchor="middle">4</text>
<text x="476.55" y="102.75" class="pl" text-anchor="middle">5</text>
<text x="488.25" y="13.15" class="pl" text-anchor="middle">6</text>
<text x="499.15" y="118.15" class="pl" text-anchor="middle">7</text>
<text x="522.85" y="140.45" class="pl" text-anchor="middle">8</text>
<line x1="453.30" y1="126.30" x2="453.30" y2="138.30" class="arw"/>
<path d="M452.30 137.60L454.30 137.60L453.30 139.80Z" fill="#222"/>
<line x1="499.00" y1="124.30" x2="499.00" y2="136.50" class="arw"/>
<path d="M498.00 135.80L500.00 135.80L499.00 138.00Z" fill="#222"/>
<rect x="2.50" y="173.50" width="266.00" height="161" fill="none" stroke="#c8c8c8" stroke-width="1.3"/>
<text transform="translate(3.80 180.40) scale(0.87 1)" class="mau">mAU</text>
<text transform="translate(26.00 201.00) scale(0.880 1)" class="big">C</text>
<line x1="16.30" y1="181.60" x2="16.30" y2="327.20" class="yax"/>
<text transform="translate(14.60 193.00) scale(0.84 1)" class="tl" text-anchor="end">60</text>
<text transform="translate(14.60 215.25) scale(0.84 1)" class="tl" text-anchor="end">50</text>
<text transform="translate(14.60 237.50) scale(0.84 1)" class="tl" text-anchor="end">40</text>
<text transform="translate(14.60 259.75) scale(0.84 1)" class="tl" text-anchor="end">30</text>
<text transform="translate(14.60 282.00) scale(0.84 1)" class="tl" text-anchor="end">20</text>
<text transform="translate(14.60 304.25) scale(0.84 1)" class="tl" text-anchor="end">10</text>
<text transform="translate(14.60 326.50) scale(0.84 1)" class="tl" text-anchor="end">0</text>
<line x1="16.30" y1="327.20" x2="266.20" y2="327.20" class="ax"/>
<text transform="translate(39.70 333.80) scale(0.8 1)" class="tl" text-anchor="middle">1</text>
<text transform="translate(64.70 333.80) scale(0.8 1)" class="tl" text-anchor="middle">2</text>
<text transform="translate(89.70 333.80) scale(0.8 1)" class="tl" text-anchor="middle">3</text>
<text transform="translate(114.70 333.80) scale(0.8 1)" class="tl" text-anchor="middle">4</text>
<text transform="translate(139.70 333.80) scale(0.8 1)" class="tl" text-anchor="middle">5</text>
<text transform="translate(164.70 333.80) scale(0.8 1)" class="tl" text-anchor="middle">6</text>
<text transform="translate(189.70 333.80) scale(0.8 1)" class="tl" text-anchor="middle">7</text>
<text transform="translate(214.70 333.80) scale(0.8 1)" class="tl" text-anchor="middle">8</text>
<text transform="translate(239.70 333.80) scale(0.8 1)" class="tl" text-anchor="middle">9</text>
<path d="M14.70 190.70H16.70 M15.60 196.26H17.00 M15.60 201.82H17.00 M15.60 207.39H17.00 M14.70 212.95H16.70 M15.60 218.51H17.00 M15.60 224.07H17.00 M15.60 229.64H17.00 M14.70 235.20H16.70 M15.60 240.76H17.00 M15.60 246.32H17.00 M15.60 251.89H17.00 M14.70 257.45H16.70 M15.60 263.01H17.00 M15.60 268.57H17.00 M15.60 274.14H17.00 M14.70 279.70H16.70 M15.60 285.26H17.00 M15.60 290.82H17.00 M15.60 296.39H17.00 M14.70 301.95H16.70 M15.60 307.51H17.00 M15.60 313.07H17.00 M15.60 318.64H17.00 M14.70 324.20H16.70 M15.60 185.14H17.00 M40.15 327.20V329.00 M65.15 327.20V329.00 M90.15 327.20V329.00 M115.15 327.20V329.00 M140.15 327.20V329.00 M165.15 327.20V329.00 M190.15 327.20V329.00 M215.15 327.20V329.00 M240.15 327.20V329.00 M20.15 327.20V328.10 M25.15 327.20V328.10 M30.15 327.20V328.10 M35.15 327.20V328.10 M45.15 327.20V328.10 M50.15 327.20V328.10 M55.15 327.20V328.10 M60.15 327.20V328.10 M70.15 327.20V328.10 M75.15 327.20V328.10 M80.15 327.20V328.10 M85.15 327.20V328.10 M95.15 327.20V328.10 M100.15 327.20V328.10 M105.15 327.20V328.10 M110.15 327.20V328.10 M120.15 327.20V328.10 M125.15 327.20V328.10 M130.15 327.20V328.10 M135.15 327.20V328.10 M145.15 327.20V328.10 M150.15 327.20V328.10 M155.15 327.20V328.10 M160.15 327.20V328.10 M170.15 327.20V328.10 M175.15 327.20V328.10 M180.15 327.20V328.10 M185.15 327.20V328.10 M195.15 327.20V328.10 M200.15 327.20V328.10 M205.15 327.20V328.10 M210.15 327.20V328.10 M220.15 327.20V328.10 M225.15 327.20V328.10 M230.15 327.20V328.10 M235.15 327.20V328.10 M245.15 327.20V328.10 M250.15 327.20V328.10 M255.15 327.20V328.10 M260.15 327.20V328.10" class="tk"/>
<text x="259.20" y="333.80" class="minl">min</text>
<path d="M16.70 324.53 L16.95 324.42 L17.20 324.51 L17.45 324.37 L17.70 324.42 L17.95 324.41 L18.20 324.28 L18.45 324.34 L18.70 324.22 L18.95 324.27 L19.20 324.17 L19.45 324.10 L19.70 324.17 L19.95 324.36 L20.20 324.27 L20.45 324.22 L20.70 324.34 L20.95 324.54 L21.20 324.57 L21.45 324.53 L21.70 324.70 L21.95 324.51 L22.20 324.64 L22.45 324.54 L22.70 324.41 L22.95 324.30 L23.20 324.28 L23.45 324.44 L23.70 324.34 L23.95 324.41 L24.20 324.48 L24.45 324.44 L24.70 324.47 L24.95 324.32 L25.20 324.20 L25.45 324.16 L25.70 324.29 L25.95 324.31 L26.20 324.28 L26.45 324.36 L26.70 324.37 L26.95 324.32 L27.20 324.46 L27.45 324.54 L27.70 324.44 L27.95 324.47 L28.20 324.48 L28.45 324.62 L28.70 324.67 L28.95 324.56 L29.20 324.71 L29.45 324.53 L29.70 324.49 L29.95 324.58 L30.20 324.43 L30.45 324.43 L30.70 324.27 L30.95 324.37 L31.20 324.48 L31.45 324.50 L31.70 324.63 L31.95 324.52 L32.20 324.58 L32.45 324.59 L32.70 324.59 L32.95 324.54 L33.20 324.64 L33.45 324.76 L33.70 324.69 L33.95 324.69 L34.20 324.48 L34.45 324.54 L34.70 324.57 L34.95 324.72 L35.20 324.78 L35.45 324.63 L35.70 324.54 L35.95 324.58 L36.20 324.37 L36.45 324.37 L36.70 324.25 L36.95 324.15 L37.20 324.04 L37.45 324.21 L37.70 324.11 L37.95 324.08 L38.20 324.10 L38.45 324.29 L38.70 324.16 L38.95 324.19 L39.20 324.24 L39.45 324.41 L39.70 324.52 L39.95 324.62 L40.20 324.49 L40.45 324.44 L40.70 324.37 L40.95 324.51 L41.20 324.64 L41.45 324.46 L41.70 324.33 L41.95 324.23 L42.20 324.16 L42.45 324.20 L42.70 324.26 L42.95 324.19 L43.20 324.04 L43.45 324.07 L43.70 324.08 L43.95 324.16 L44.20 324.35 L44.45 324.42 L44.70 324.41 L44.95 324.43 L45.20 324.48 L45.45 324.29 L45.70 324.44 L45.95 324.51 L46.20 324.61 L46.45 324.66 L46.70 324.55 L46.95 324.47 L47.20 324.29 L47.45 324.34 L47.70 324.18 L47.95 324.05 L48.20 323.99 L48.45 323.93 L48.70 323.95 L48.95 323.85 L49.20 323.76 L49.45 323.74 L49.70 323.71 L49.95 323.77 L50.20 323.70 L50.45 323.95 L50.70 324.06 L50.95 323.98 L51.20 323.95 L51.45 323.96 L51.70 323.97 L51.95 323.89 L52.20 324.09 L52.45 324.30 L52.70 324.28 L52.95 324.27 L53.20 324.12 L53.45 324.00 L53.70 323.99 L53.95 323.96 L54.20 324.14 L54.45 324.03 L54.70 323.90 L54.95 324.13 L55.20 324.16 L55.45 324.05 L55.70 324.10 L55.95 323.96 L56.20 324.02 L56.45 324.23 L56.70 324.36 L56.95 324.40 L57.20 324.28 L57.45 324.22 L57.70 324.10 L57.95 324.22 L58.20 324.23 L58.45 324.32 L58.70 324.24 L58.95 324.13 L59.20 324.26 L59.45 324.42 L59.70 324.50 L59.95 324.55 L60.20 324.59 L60.45 324.60 L60.70 324.42 L60.95 324.38 L61.20 324.29 L61.45 324.10 L61.70 323.95 L61.95 323.92 L62.20 323.89 L62.45 324.02 L62.70 324.22 L62.95 324.19 L63.20 324.35 L63.45 324.49 L63.70 324.60 L63.95 324.47 L64.20 324.31 L64.45 324.19 L64.70 324.08 L64.95 323.99 L65.20 324.08 L65.45 324.24 L65.70 324.35 L65.95 324.31 L66.20 324.34 L66.45 324.42 L66.70 324.22 L66.95 324.27 L67.20 324.40 L67.45 324.46 L67.70 324.49 L67.95 324.42 L68.20 324.26 L68.45 324.35 L68.70 324.25 L68.95 324.34 L69.20 324.48 L69.45 324.38 L69.70 324.30 L69.95 324.44 L70.20 324.47 L70.45 324.29 L70.70 324.13 L70.95 324.01 L71.20 324.19 L71.45 324.30 L71.70 324.14 L71.95 324.27 L72.20 324.42 L72.45 324.43 L72.70 324.32 L72.95 324.31 L73.20 324.15 L73.45 323.98 L73.70 324.18 L73.95 324.23 L74.20 324.23 L74.45 324.37 L74.70 324.31 L74.95 324.41 L75.20 324.48 L75.45 324.31 L75.70 324.19 L75.95 324.11 L76.20 324.03 L76.45 324.08 L76.70 324.01 L76.95 324.01 L77.20 323.91 L77.45 324.11 L77.70 324.06 L77.95 324.07 L78.20 324.11 L78.45 324.27 L78.70 324.22 L78.95 324.35 L79.20 324.31 L79.45 324.29 L79.70 324.27 L79.95 324.08 L80.20 324.07 L80.45 323.97 L80.70 323.83 L80.95 324.00 L81.20 323.91 L81.45 323.95 L81.70 324.07 L81.95 324.10 L82.20 324.05 L82.45 324.08 L82.70 324.11 L82.95 324.22 L83.20 324.06 L83.45 324.10 L83.70 324.02 L83.95 323.96 L84.20 324.10 L84.45 324.11 L84.70 324.14 L84.95 324.23 L85.20 324.36 L85.45 324.29 L85.70 324.30 L85.95 324.26 L86.20 324.21 L86.45 324.20 L86.70 324.04 L86.95 323.87 L87.20 323.62 L87.45 323.52 L87.70 323.35 L87.95 323.33 L88.20 323.47 L88.45 323.46 L88.70 323.67 L88.95 324.02 L89.20 324.26 L89.45 324.18 L89.70 324.08 L89.95 324.09 L90.20 323.96 L90.45 323.90 L90.70 323.79 L90.95 323.92 L91.20 324.06 L91.45 324.22 L91.70 324.07 L91.95 324.16 L92.20 324.21 L92.45 324.06 L92.70 324.21 L92.95 324.36 L93.20 324.21 L93.45 324.36 L93.70 324.27 L93.95 324.24 L94.20 324.39 L94.45 324.45 L94.70 324.26 L94.95 324.21 L95.20 324.20 L95.45 324.12 L95.70 324.01 L95.95 323.97 L96.20 324.07 L96.45 323.91 L96.70 323.96 L96.95 323.95 L97.20 323.77 L97.45 323.68 L97.70 323.63 L97.95 323.46 L98.20 323.11 L98.45 323.19 L98.70 323.28 L98.95 323.56 L99.20 323.58 L99.45 323.68 L99.70 323.62 L99.95 323.73 L100.20 323.49 L100.45 323.13 L100.70 322.91 L100.95 322.97 L101.20 323.15 L101.45 323.26 L101.70 323.41 L101.95 323.83 L102.20 324.01 L102.45 324.16 L102.70 324.03 L102.95 323.89 L103.20 324.00 L103.45 323.99 L103.70 323.86 L103.95 324.06 L104.20 324.12 L104.45 324.22 L104.70 324.05 L104.95 324.18 L105.20 324.01 L105.45 324.16 L105.70 324.13 L105.95 324.06 L106.20 324.08 L106.45 324.24 L106.70 324.12 L106.95 323.98 L107.20 324.01 L107.45 323.93 L107.70 323.82 L107.95 323.75 L108.20 323.66 L108.45 323.63 L108.70 323.66 L108.95 323.67 L109.20 323.85 L109.45 323.82 L109.70 323.87 L109.95 323.80 L110.20 323.80 L110.45 323.68 L110.70 323.67 L110.95 323.58 L111.20 323.76 L111.45 323.84 L111.70 323.78 L111.95 323.83 L112.20 324.03 L112.45 323.90 L112.70 324.05 L112.95 324.03 L113.20 324.04 L113.45 324.16 L113.70 324.11 L113.95 324.10 L114.20 324.16 L114.45 324.32 L114.70 324.21 L114.95 324.30 L115.20 324.33 L115.45 324.32 L115.70 324.24 L115.95 324.15 L116.20 323.97 L116.45 323.86 L116.70 323.74 L116.95 323.89 L117.20 323.84 L117.45 323.76 L117.70 323.67 L117.95 323.87 L118.20 324.04 L118.45 324.11 L118.70 324.02 L118.95 323.93 L119.20 323.88 L119.45 323.90 L119.70 323.81 L119.95 323.84 L120.20 323.80 L120.45 324.02 L120.70 324.19 L120.95 324.18 L121.20 324.06 L121.45 324.23 L121.70 324.12 L121.95 324.06 L122.20 323.88 L122.45 323.87 L122.70 323.90 L122.95 323.93 L123.20 323.84 L123.45 323.89 L123.70 323.74 L123.95 323.72 L124.20 323.63 L124.45 323.68 L124.70 323.59 L124.95 323.51 L125.20 323.54 L125.45 323.55 L125.70 323.68 L125.95 323.76 L126.20 323.91 L126.45 323.99 L126.70 324.08 L126.95 324.21 L127.20 324.08 L127.45 323.94 L127.70 324.34 L127.95 324.00 L128.20 324.19 L128.45 324.27 L128.70 323.86 L128.95 324.16 L129.20 324.45 L129.45 324.47 L129.70 324.57 L129.95 324.71 L130.20 324.29 L130.45 324.25 L130.70 324.21 L130.95 324.44 L131.20 324.60 L131.45 324.75 L131.70 324.67 L131.95 324.86 L132.20 324.84 L132.45 324.83 L132.70 324.45 L132.95 323.99 L133.20 323.69 L133.45 323.61 L133.70 323.22 L133.95 323.24 L134.20 322.61 L134.45 321.74 L134.70 320.96 L134.95 320.84 L135.20 321.17 L135.45 321.51 L135.70 322.64 L135.95 323.50 L136.20 323.87 L136.45 324.07 L136.70 324.24 L136.95 323.87 L137.20 324.10 L137.45 323.88 L137.70 323.57 L137.95 323.47 L138.20 323.76 L138.45 323.58 L138.70 323.85 L138.95 324.27 L139.20 324.21 L139.45 324.08 L139.70 324.05 L139.95 324.18 L140.20 324.36 L140.45 324.38 L140.70 324.42 L140.95 324.00 L141.20 323.72 L141.45 323.58 L141.70 323.86 L141.95 323.73 L142.20 323.84 L142.45 323.47 L142.70 323.18 L142.95 323.04 L143.20 323.12 L143.45 323.09 L143.70 323.02 L143.95 322.79 L144.20 322.94 L144.45 323.15 L144.70 323.33 L144.95 323.14 L145.20 323.53 L145.45 323.23 L145.70 323.58 L145.95 323.80 L146.20 323.22 L146.45 323.08 L146.70 323.24 L146.95 323.45 L147.20 323.17 L147.45 322.77 L147.70 322.35 L147.95 322.56 L148.20 322.06 L148.45 321.87 L148.70 321.25 L148.95 320.88 L149.20 320.70 L149.45 319.60 L149.70 318.90 L149.95 317.65 L150.20 316.49 L150.45 314.95 L150.70 312.92 L150.95 311.54 L151.20 309.99 L151.45 308.46 L151.70 307.50 L151.95 307.54 L152.20 307.90 L152.45 308.47 L152.70 309.19 L152.95 310.31 L153.20 311.50 L153.45 313.15 L153.70 313.99 L153.95 315.41 L154.20 316.69 L154.45 317.18 L154.70 318.23 L154.95 318.88 L155.20 319.53 L155.45 319.53 L155.70 319.56 L155.95 319.59 L156.20 320.06 L156.45 320.10 L156.70 319.93 L156.95 319.83 L157.20 319.59 L157.45 319.20 L157.70 318.90 L157.95 319.23 L158.20 319.04 L158.45 319.39 L158.70 319.09 L158.95 318.85 L159.20 318.83 L159.45 318.49 L159.70 318.26 L159.95 318.31 L160.20 318.03 L160.45 317.53 L160.70 317.06 L160.95 317.25 L161.20 317.74 L161.45 318.04 L161.70 318.46 L161.95 318.19 L162.20 318.39 L162.45 318.16 L162.70 317.98 L162.95 317.23 L163.20 315.03 L163.45 310.46 L163.70 305.03 L163.95 300.97 L164.20 302.02 L164.45 305.83 L164.70 310.28 L164.95 313.92 L165.20 315.96 L165.45 315.72 L165.70 314.44 L165.95 311.92 L166.20 309.87 L166.45 309.20 L166.70 309.98 L166.95 311.74 L167.20 313.71 L167.45 315.58 L167.70 315.78 L167.95 314.70 L168.20 314.55 L168.45 315.77 L168.70 317.06 L168.95 317.52 L169.20 317.17 L169.45 315.87 L169.70 314.37 L169.95 313.65 L170.20 314.66 L170.45 316.05 L170.70 317.00 L170.95 317.39 L171.20 316.88 L171.45 315.55 L171.70 314.80 L171.95 315.49 L172.20 316.61 L172.45 317.18 L172.70 316.73 L172.95 315.65 L173.20 314.72 L173.45 313.94 L173.70 315.02 L173.95 316.55 L174.20 317.56 L174.45 317.28 L174.70 316.45 L174.95 315.20 L175.20 314.60 L175.45 315.20 L175.70 316.70 L175.95 317.59 L176.20 317.82 L176.45 316.63 L176.70 314.91 L176.95 314.15 L177.20 314.93 L177.45 316.18 L177.70 317.15 L177.95 316.90 L178.20 316.33 L178.45 315.60 L178.70 314.56 L178.95 314.23 L179.20 314.97 L179.45 315.31 L179.70 314.74 L179.95 312.71 L180.20 309.35 L180.45 305.65 L180.70 304.15 L180.95 305.84 L181.20 309.49 L181.45 312.81 L181.70 314.35 L181.95 314.80 L182.20 314.20 L182.45 313.84 L182.70 312.44 L182.95 310.62 L183.20 306.40 L183.45 297.95 L183.70 283.64 L183.95 263.88 L184.20 243.09 L184.45 228.64 L184.70 226.51 L184.95 236.07 L185.20 253.33 L185.45 272.14 L185.70 287.72 L185.95 298.25 L186.20 304.62 L186.45 306.91 L186.70 306.99 L186.95 306.00 L187.20 305.74 L187.45 306.55 L187.70 308.62 L187.95 310.81 L188.20 312.66 L188.45 313.99 L188.70 315.34 L188.95 315.97 L189.20 316.05 L189.45 315.84 L189.70 316.06 L189.95 316.37 L190.20 316.40 L190.45 315.85 L190.70 314.71 L190.95 312.71 L191.20 310.16 L191.45 309.33 L191.70 310.97 L191.95 313.81 L192.20 316.66 L192.45 318.11 L192.70 318.84 L192.95 319.01 L193.20 318.75 L193.45 318.13 L193.70 318.00 L193.95 316.98 L194.20 315.71 L194.45 312.10 L194.70 304.27 L194.95 290.55 L195.20 273.16 L195.45 263.14 L195.70 266.20 L195.95 278.10 L196.20 292.18 L196.45 303.01 L196.70 309.30 L196.95 312.46 L197.20 313.26 L197.45 313.63 L197.70 313.55 L197.95 313.96 L198.20 313.64 L198.45 313.29 L198.70 312.98 L198.95 312.98 L199.20 313.34 L199.45 313.52 L199.70 313.28 L199.95 312.70 L200.20 311.32 L200.45 309.15 L200.70 307.53 L200.95 307.37 L201.20 306.97 L201.45 303.40 L201.70 293.15 L201.95 269.51 L202.20 233.83 L202.45 203.00 L202.70 198.35 L202.95 214.52 L203.20 241.48 L203.45 268.48 L203.70 289.18 L203.95 301.22 L204.20 308.25 L204.45 311.40 L204.70 313.20 L204.95 314.67 L205.20 315.61 L205.45 315.93 L205.70 315.80 L205.95 315.98 L206.20 315.98 L206.45 316.30 L206.70 315.74 L206.95 314.85 L207.20 312.87 L207.45 306.66 L207.70 296.70 L207.95 287.63 L208.20 286.52 L208.45 291.73 L208.70 299.95 L208.95 307.26 L209.20 312.58 L209.45 314.92 L209.70 316.35 L209.95 317.16 L210.20 316.98 L210.45 316.05 L210.70 314.67 L210.95 312.25 L211.20 310.21 L211.45 310.55 L211.70 312.15 L211.95 314.27 L212.20 315.70 L212.45 316.98 L212.70 317.68 L212.95 317.54 L213.20 316.91 L213.45 314.58 L213.70 312.10 L213.95 310.78 L214.20 311.69 L214.45 313.80 L214.70 315.64 L214.95 316.84 L215.20 317.49 L215.45 317.58 L215.70 317.37 L215.95 315.63 L216.20 313.73 L216.45 312.05 L216.70 312.02 L216.95 313.46 L217.20 315.40 L217.45 316.83 L217.70 317.56 L217.95 317.66 L218.20 317.40 L218.45 315.61 L218.70 312.91 L218.95 310.26 L219.20 308.12 L219.45 307.95 L219.70 309.38 L219.95 312.04 L220.20 314.36 L220.45 316.56 L220.70 317.86 L220.95 318.67 L221.20 318.57 L221.45 318.27 L221.70 318.03 L221.95 318.15 L222.20 318.43 L222.45 318.44 L222.70 318.29 L222.95 318.32 L223.20 318.51 L223.45 318.71 L223.70 318.90 L223.95 319.08 L224.20 318.91 L224.45 318.03 L224.70 317.02 L224.95 313.73 L225.20 308.56 L225.45 303.53 L225.70 302.98 L225.95 305.54 L226.20 309.71 L226.45 313.39 L226.70 315.63 L226.95 317.28 L227.20 317.93 L227.45 318.06 L227.70 318.15 L227.95 318.65 L228.20 318.64 L228.45 318.40 L228.70 318.66 L228.95 318.73 L229.20 319.06 L229.45 318.60 L229.70 318.53 L229.95 318.75 L230.20 318.94 L230.45 319.15 L230.70 318.62 L230.95 318.40 L231.20 318.07 L231.45 317.87 L231.70 318.33 L231.95 318.39 L232.20 318.71 L232.45 318.52 L232.70 318.76 L232.95 318.61 L233.20 318.35 L233.45 318.54 L233.70 318.83 L233.95 318.39 L234.20 318.43 L234.45 318.48 L234.70 318.19 L234.95 318.08 L235.20 317.84 L235.45 317.72 L235.70 317.67 L235.95 317.91 L236.20 318.15 L236.45 317.99 L236.70 317.72 L236.95 317.76 L237.20 318.08 L237.45 317.95 L237.70 317.95 L237.95 317.87 L238.20 318.29 L238.45 318.44 L238.70 318.17 L238.95 318.00 L239.20 318.10 L239.45 318.30 L239.70 318.51 L239.95 318.15 L240.20 317.73 L240.45 317.46 L240.70 316.53 L240.95 315.24 L241.20 314.09 L241.45 314.03 L241.70 314.11 L241.95 314.98 L242.20 315.96 L242.45 317.01 L242.70 318.23 L242.95 319.21 L243.20 319.36 L243.45 319.26 L243.70 319.55 L243.95 319.34 L244.20 319.01 L244.45 319.46 L244.70 319.45 L244.95 319.76 L245.20 319.66 L245.45 319.96 L245.70 319.87 L245.95 319.55 L246.20 319.18 L246.45 319.32 L246.70 319.50 L246.95 319.86 L247.20 319.49 L247.45 319.62 L247.70 319.53 L247.95 319.56 L248.20 319.30 L248.45 319.21 L248.70 319.32 L248.95 319.74 L249.20 319.42 L249.45 319.47 L249.70 319.76 L249.95 320.13 L250.20 319.80 L250.45 319.49 L250.70 319.89 L250.95 320.24 L251.20 320.13 L251.45 319.70 L251.70 320.05 L251.95 319.90 L252.20 320.20 L252.45 320.21 L252.70 320.38 L252.95 319.99 L253.20 320.18 L253.45 319.88 L253.70 319.78 L253.95 320.06 L254.20 320.28 L254.45 319.93 L254.70 319.68 L254.95 319.63 L255.20 319.68 L255.45 319.62 L255.70 319.36 L255.95 319.25 L256.20 319.55 L256.45 319.93 L256.70 319.55 L256.95 319.66 L257.20 319.91 L257.45 319.53 L257.70 319.87 L257.95 319.56 L258.20 319.71 L258.45 319.78 L258.70 319.91 L258.95 319.75 L259.20 319.72 L259.45 319.82 L259.70 319.78 L259.95 319.94 L260.20 319.89 L260.45 319.85 L260.70 319.48 L260.95 319.67 L261.20 319.72 L261.45 319.55 L261.70 319.84 L261.95 320.09 L262.20 320.03 L262.45 319.76 L262.70 319.78 L262.95 319.51 L263.20 319.31 L263.45 319.39 L263.70 319.18 L263.95 319.30 L264.20 319.45 L264.45 319.19 L264.70 319.47 L264.95 319.24 L265.20 319.58 L265.45 319.89 L265.70 319.92 L265.95 319.58" class="tr"/>
<path d="M162.65 298.30L164.55 298.30L164.55 291.00L163.15 291.00Q162.60 292.30 161.00 292.70L161.00 294.00Q161.90 293.80 162.65 293.20Z" fill="#111"/>
<text x="184.25" y="224.95" class="pl" text-anchor="middle">3</text>
<text x="191.25" y="298.25" class="pl" text-anchor="middle">4</text>
<text x="195.65" y="258.25" class="pl" text-anchor="middle">5</text>
<text x="206.65" y="208.45" class="pl" text-anchor="middle">6</text>
<text x="219.05" y="302.95" class="pl" text-anchor="middle">7</text>
<text x="241.05" y="307.25" class="pl" text-anchor="middle">8</text>
<rect x="282.00" y="173.50" width="265.50" height="161" fill="none" stroke="#c8c8c8" stroke-width="1.3"/>
<text transform="translate(284.10 180.40) scale(0.87 1)" class="mau">mAU</text>
<text transform="translate(306.20 201.00) scale(0.930 1)" class="big">D</text>
<line x1="296.60" y1="181.60" x2="296.60" y2="327.20" class="yax"/>
<text transform="translate(294.90 193.00) scale(0.84 1)" class="tl" text-anchor="end">30</text>
<text transform="translate(294.90 215.25) scale(0.84 1)" class="tl" text-anchor="end">25</text>
<text transform="translate(294.90 237.50) scale(0.84 1)" class="tl" text-anchor="end">20</text>
<text transform="translate(294.90 259.75) scale(0.84 1)" class="tl" text-anchor="end">15</text>
<text transform="translate(294.90 282.00) scale(0.84 1)" class="tl" text-anchor="end">10</text>
<text transform="translate(294.90 304.25) scale(0.84 1)" class="tl" text-anchor="end">5</text>
<text transform="translate(294.90 326.50) scale(0.84 1)" class="tl" text-anchor="end">0</text>
<line x1="296.60" y1="327.20" x2="545.70" y2="327.20" class="ax"/>
<text transform="translate(319.85 333.80) scale(0.8 1)" class="tl" text-anchor="middle">1</text>
<text transform="translate(344.85 333.80) scale(0.8 1)" class="tl" text-anchor="middle">2</text>
<text transform="translate(369.85 333.80) scale(0.8 1)" class="tl" text-anchor="middle">3</text>
<text transform="translate(394.85 333.80) scale(0.8 1)" class="tl" text-anchor="middle">4</text>
<text transform="translate(419.85 333.80) scale(0.8 1)" class="tl" text-anchor="middle">5</text>
<text transform="translate(444.85 333.80) scale(0.8 1)" class="tl" text-anchor="middle">6</text>
<text transform="translate(469.85 333.80) scale(0.8 1)" class="tl" text-anchor="middle">7</text>
<text transform="translate(494.85 333.80) scale(0.8 1)" class="tl" text-anchor="middle">8</text>
<text transform="translate(519.85 333.80) scale(0.8 1)" class="tl" text-anchor="middle">9</text>
<path d="M295.00 190.70H297.00 M295.90 196.26H297.30 M295.90 201.82H297.30 M295.90 207.39H297.30 M295.00 212.95H297.00 M295.90 218.51H297.30 M295.90 224.07H297.30 M295.90 229.64H297.30 M295.00 235.20H297.00 M295.90 240.76H297.30 M295.90 246.32H297.30 M295.90 251.89H297.30 M295.00 257.45H297.00 M295.90 263.01H297.30 M295.90 268.57H297.30 M295.90 274.14H297.30 M295.00 279.70H297.00 M295.90 285.26H297.30 M295.90 290.82H297.30 M295.90 296.39H297.30 M295.00 301.95H297.00 M295.90 307.51H297.30 M295.90 313.07H297.30 M295.90 318.64H297.30 M295.00 324.20H297.00 M295.90 185.14H297.30 M320.30 327.20V329.00 M345.30 327.20V329.00 M370.30 327.20V329.00 M395.30 327.20V329.00 M420.30 327.20V329.00 M445.30 327.20V329.00 M470.30 327.20V329.00 M495.30 327.20V329.00 M520.30 327.20V329.00 M300.30 327.20V328.10 M305.30 327.20V328.10 M310.30 327.20V328.10 M315.30 327.20V328.10 M325.30 327.20V328.10 M330.30 327.20V328.10 M335.30 327.20V328.10 M340.30 327.20V328.10 M350.30 327.20V328.10 M355.30 327.20V328.10 M360.30 327.20V328.10 M365.30 327.20V328.10 M375.30 327.20V328.10 M380.30 327.20V328.10 M385.30 327.20V328.10 M390.30 327.20V328.10 M400.30 327.20V328.10 M405.30 327.20V328.10 M410.30 327.20V328.10 M415.30 327.20V328.10 M425.30 327.20V328.10 M430.30 327.20V328.10 M435.30 327.20V328.10 M440.30 327.20V328.10 M450.30 327.20V328.10 M455.30 327.20V328.10 M460.30 327.20V328.10 M465.30 327.20V328.10 M475.30 327.20V328.10 M480.30 327.20V328.10 M485.30 327.20V328.10 M490.30 327.20V328.10 M500.30 327.20V328.10 M505.30 327.20V328.10 M510.30 327.20V328.10 M515.30 327.20V328.10 M525.30 327.20V328.10 M530.30 327.20V328.10 M535.30 327.20V328.10 M540.30 327.20V328.10" class="tk"/>
<text x="538.70" y="333.80" class="minl">min</text>
<path d="M297.00 323.54 L297.25 323.42 L297.50 323.52 L297.75 323.38 L298.00 323.44 L298.25 323.42 L298.50 323.30 L298.75 323.37 L299.00 323.25 L299.25 323.30 L299.50 323.21 L299.75 323.14 L300.00 323.21 L300.25 323.41 L300.50 323.32 L300.75 323.28 L301.00 323.39 L301.25 323.60 L301.50 323.63 L301.75 323.59 L302.00 323.77 L302.25 323.58 L302.50 323.72 L302.75 323.63 L303.00 323.50 L303.25 323.39 L303.50 323.37 L303.75 323.54 L304.00 323.44 L304.25 323.51 L304.50 323.59 L304.75 323.55 L305.00 323.59 L305.25 323.44 L305.50 323.32 L305.75 323.28 L306.00 323.42 L306.25 323.44 L306.50 323.41 L306.75 323.49 L307.00 323.51 L307.25 323.46 L307.50 323.61 L307.75 323.69 L308.00 323.59 L308.25 323.63 L308.50 323.64 L308.75 323.78 L309.00 323.84 L309.25 323.73 L309.50 323.89 L309.75 323.70 L310.00 323.67 L310.25 323.76 L310.50 323.62 L310.75 323.62 L311.00 323.47 L311.25 323.57 L311.50 323.68 L311.75 323.71 L312.00 323.83 L312.25 323.74 L312.50 323.79 L312.75 323.80 L313.00 323.81 L313.25 323.77 L313.50 323.87 L313.75 323.99 L314.00 323.92 L314.25 323.93 L314.50 323.72 L314.75 323.79 L315.00 323.82 L315.25 323.97 L315.50 324.03 L315.75 323.89 L316.00 323.81 L316.25 323.84 L316.50 323.64 L316.75 323.64 L317.00 323.53 L317.25 323.43 L317.50 323.32 L317.75 323.49 L318.00 323.40 L318.25 323.37 L318.50 323.40 L318.75 323.59 L319.00 323.46 L319.25 323.49 L319.50 323.55 L319.75 323.72 L320.00 323.84 L320.25 323.94 L320.50 323.82 L320.75 323.76 L321.00 323.70 L321.25 323.84 L321.50 323.98 L321.75 323.80 L322.00 323.67 L322.25 323.58 L322.50 323.52 L322.75 323.55 L323.00 323.62 L323.25 323.55 L323.50 323.41 L323.75 323.44 L324.00 323.45 L324.25 323.53 L324.50 323.73 L324.75 323.80 L325.00 323.79 L325.25 323.82 L325.50 323.87 L325.75 323.68 L326.00 323.84 L326.25 323.92 L326.50 324.02 L326.75 324.07 L327.00 323.96 L327.25 323.88 L327.50 323.71 L327.75 323.77 L328.00 323.61 L328.25 323.48 L328.50 323.43 L328.75 323.37 L329.00 323.39 L329.25 323.30 L329.50 323.21 L329.75 323.19 L330.00 323.16 L330.25 323.23 L330.50 323.17 L330.75 323.42 L331.00 323.53 L331.25 323.45 L331.50 323.42 L331.75 323.43 L332.00 323.45 L332.25 323.38 L332.50 323.58 L332.75 323.80 L333.00 323.78 L333.25 323.77 L333.50 323.62 L333.75 323.51 L334.00 323.50 L334.25 323.47 L334.50 323.65 L334.75 323.56 L335.00 323.43 L335.25 323.66 L335.50 323.69 L335.75 323.58 L336.00 323.64 L336.25 323.50 L336.50 323.57 L336.75 323.78 L337.00 323.91 L337.25 323.96 L337.50 323.84 L337.75 323.78 L338.00 323.66 L338.25 323.79 L338.50 323.80 L338.75 323.90 L339.00 323.82 L339.25 323.71 L339.50 323.84 L339.75 324.01 L340.00 324.09 L340.25 324.15 L340.50 324.19 L340.75 324.20 L341.00 324.02 L341.25 323.86 L341.50 323.65 L341.75 323.33 L342.00 323.06 L342.25 322.90 L342.50 322.74 L342.75 322.75 L343.00 322.82 L343.25 322.80 L343.50 322.96 L343.75 323.11 L344.00 323.21 L344.25 323.08 L344.50 322.93 L344.75 322.81 L345.00 322.70 L345.25 322.62 L345.50 322.71 L345.75 322.87 L346.00 322.99 L346.25 322.95 L346.50 322.98 L346.75 323.06 L347.00 322.86 L347.25 322.92 L347.50 323.05 L347.75 323.11 L348.00 323.15 L348.25 323.08 L348.50 322.92 L348.75 323.01 L349.00 322.91 L349.25 323.01 L349.50 323.15 L349.75 323.05 L350.00 322.98 L350.25 323.12 L350.50 323.15 L350.75 322.97 L351.00 322.81 L351.25 322.70 L351.50 322.88 L351.75 322.99 L352.00 322.84 L352.25 322.96 L352.50 323.12 L352.75 323.13 L353.00 323.02 L353.25 323.01 L353.50 322.85 L353.75 322.68 L354.00 322.89 L354.25 322.95 L354.50 322.94 L354.75 323.09 L355.00 323.03 L355.25 323.13 L355.50 323.20 L355.75 323.04 L356.00 322.92 L356.25 322.84 L356.50 322.76 L356.75 322.82 L357.00 322.75 L357.25 322.87 L357.50 322.87 L357.75 323.18 L358.00 323.25 L358.25 323.37 L358.50 323.53 L358.75 323.80 L359.00 323.86 L359.25 324.00 L359.50 323.96 L359.75 323.94 L360.00 323.92 L360.25 323.72 L360.50 323.72 L360.75 323.62 L361.00 323.48 L361.25 323.65 L361.50 323.57 L361.75 323.60 L362.00 323.73 L362.25 323.76 L362.50 323.71 L362.75 323.74 L363.00 323.77 L363.25 323.88 L363.50 323.72 L363.75 323.76 L364.00 323.68 L364.25 323.63 L364.50 323.76 L364.75 323.78 L365.00 323.81 L365.25 323.90 L365.50 324.03 L365.75 323.97 L366.00 323.98 L366.25 323.95 L366.50 323.93 L366.75 323.97 L367.00 323.92 L367.25 323.91 L367.50 323.89 L367.75 324.03 L368.00 324.06 L368.25 324.15 L368.50 324.24 L368.75 324.07 L369.00 324.04 L369.25 324.16 L369.50 324.21 L369.75 324.00 L370.00 323.83 L370.25 323.81 L370.50 323.66 L370.75 323.60 L371.00 323.49 L371.25 323.62 L371.50 323.76 L371.75 323.92 L372.00 323.77 L372.25 323.86 L372.50 323.91 L372.75 323.77 L373.00 323.92 L373.25 324.07 L373.50 323.92 L373.75 324.06 L374.00 323.98 L374.25 323.95 L374.50 324.10 L374.75 324.17 L375.00 323.98 L375.25 323.92 L375.50 323.91 L375.75 323.84 L376.00 323.73 L376.25 323.68 L376.50 323.79 L376.75 323.63 L377.00 323.69 L377.25 323.70 L377.50 323.55 L377.75 323.55 L378.00 323.65 L378.25 323.69 L378.50 323.56 L378.75 323.79 L379.00 323.91 L379.25 324.06 L379.50 323.88 L379.75 323.78 L380.00 323.63 L380.25 323.77 L380.50 323.70 L380.75 323.60 L381.00 323.62 L381.25 323.81 L381.50 323.93 L381.75 323.83 L382.00 323.71 L382.25 323.88 L382.50 323.90 L382.75 323.96 L383.00 323.79 L383.25 323.64 L383.50 323.75 L383.75 323.74 L384.00 323.61 L384.25 323.82 L384.50 323.87 L384.75 323.98 L385.00 323.80 L385.25 323.94 L385.50 323.77 L385.75 323.91 L386.00 323.88 L386.25 323.82 L386.50 323.85 L386.75 324.00 L387.00 323.89 L387.25 323.75 L387.50 323.78 L387.75 323.70 L388.00 323.59 L388.25 323.52 L388.50 323.43 L388.75 323.41 L389.00 323.43 L389.25 323.44 L389.50 323.62 L389.75 323.59 L390.00 323.65 L390.25 323.57 L390.50 323.58 L390.75 323.46 L391.00 323.45 L391.25 323.36 L391.50 323.54 L391.75 323.62 L392.00 323.56 L392.25 323.61 L392.50 323.82 L392.75 323.69 L393.00 323.84 L393.25 323.82 L393.50 323.83 L393.75 323.95 L394.00 323.90 L394.25 323.89 L394.50 323.96 L394.75 324.11 L395.00 324.01 L395.25 324.10 L395.50 324.13 L395.75 324.13 L396.00 324.04 L396.25 323.95 L396.50 323.77 L396.75 323.66 L397.00 323.55 L397.25 323.70 L397.50 323.65 L397.75 323.57 L398.00 323.48 L398.25 323.68 L398.50 323.86 L398.75 323.92 L399.00 323.83 L399.25 323.75 L399.50 323.70 L399.75 323.72 L400.00 323.63 L400.25 323.66 L400.50 323.62 L400.75 323.84 L401.00 324.02 L401.25 324.01 L401.50 323.89 L401.75 324.05 L402.00 323.95 L402.25 323.89 L402.50 323.71 L402.75 323.70 L403.00 323.73 L403.25 323.76 L403.50 323.68 L403.75 323.72 L404.00 323.57 L404.25 323.55 L404.50 323.47 L404.75 323.52 L405.00 323.43 L405.25 323.35 L405.50 323.38 L405.75 323.39 L406.00 323.52 L406.25 323.60 L406.50 323.86 L406.75 323.99 L407.00 324.15 L407.25 324.40 L407.50 324.21 L407.75 324.01 L408.00 324.37 L408.25 324.00 L408.50 324.15 L408.75 324.22 L409.00 323.79 L409.25 324.08 L409.50 324.35 L409.75 324.36 L410.00 324.46 L410.25 324.60 L410.50 324.17 L410.75 324.13 L411.00 324.09 L411.25 324.32 L411.50 324.48 L411.75 324.62 L412.00 324.55 L412.25 324.73 L412.50 324.71 L412.75 324.70 L413.00 324.33 L413.25 323.78 L413.50 323.40 L413.75 323.26 L414.00 322.92 L414.25 323.22 L414.50 323.22 L414.75 323.26 L415.00 323.27 L415.25 323.30 L415.50 323.15 L415.75 322.62 L416.00 322.79 L416.25 323.03 L416.50 322.88 L416.75 322.50 L417.00 321.83 L417.25 320.32 L417.50 319.35 L417.75 318.36 L418.00 318.08 L418.25 318.87 L418.50 320.55 L418.75 321.78 L419.00 323.15 L419.25 324.13 L419.50 324.35 L419.75 324.32 L420.00 324.32 L420.25 324.47 L420.50 324.65 L420.75 324.68 L421.00 324.72 L421.25 324.29 L421.50 324.01 L421.75 323.87 L422.00 324.15 L422.25 324.03 L422.50 324.14 L422.75 323.78 L423.00 323.53 L423.25 323.50 L423.50 323.80 L423.75 324.05 L424.00 324.24 L424.25 324.09 L424.50 324.14 L424.75 324.15 L425.00 324.15 L425.25 323.87 L425.50 324.27 L425.75 324.04 L426.00 324.47 L426.25 324.79 L426.50 324.30 L426.75 324.27 L427.00 324.53 L427.25 324.57 L427.50 324.13 L427.75 323.58 L428.00 323.03 L428.25 323.11 L428.50 322.51 L428.75 322.22 L429.00 321.45 L429.25 321.07 L429.50 320.73 L429.75 319.35 L430.00 318.35 L430.25 317.05 L430.50 316.41 L430.75 316.19 L431.00 315.96 L431.25 316.56 L431.50 316.95 L431.75 317.11 L432.00 317.37 L432.25 318.08 L432.50 318.67 L432.75 319.03 L433.00 319.17 L433.25 319.41 L433.50 319.55 L433.75 320.04 L434.00 319.74 L434.25 320.06 L434.50 320.37 L434.75 320.02 L435.00 320.37 L435.25 320.46 L435.50 320.68 L435.75 320.35 L436.00 320.14 L436.25 319.97 L436.50 320.32 L436.75 320.25 L437.00 320.01 L437.25 319.86 L437.50 319.60 L437.75 319.20 L438.00 318.92 L438.25 319.26 L438.50 319.09 L438.75 319.45 L439.00 319.18 L439.25 318.96 L439.50 318.97 L439.75 318.71 L440.00 318.63 L440.25 319.02 L440.50 319.27 L440.75 319.39 L441.00 319.33 L441.25 319.48 L441.50 319.55 L441.75 319.17 L442.00 318.79 L442.25 317.73 L442.50 317.39 L442.75 317.09 L443.00 317.43 L443.25 317.87 L443.50 317.97 L443.75 317.79 L444.00 318.23 L444.25 317.88 L444.50 317.81 L444.75 317.56 L445.00 317.11 L445.25 316.74 L445.50 316.22 L445.75 315.07 L446.00 314.77 L446.25 314.77 L446.50 315.41 L446.75 316.02 L447.00 316.35 L447.25 316.50 L447.50 316.53 L447.75 317.02 L448.00 317.03 L448.25 316.87 L448.50 317.30 L448.75 317.72 L449.00 317.62 L449.25 317.30 L449.50 317.09 L449.75 316.84 L450.00 316.83 L450.25 316.59 L450.50 316.41 L450.75 316.14 L451.00 316.05 L451.25 316.24 L451.50 316.48 L451.75 316.66 L452.00 316.98 L452.25 317.34 L452.50 317.44 L452.75 317.41 L453.00 317.06 L453.25 316.82 L453.50 317.05 L453.75 316.50 L454.00 316.49 L454.25 316.81 L454.50 317.45 L454.75 317.52 L455.00 317.59 L455.25 317.56 L455.50 317.63 L455.75 317.70 L456.00 318.17 L456.25 318.46 L456.50 318.72 L456.75 318.25 L457.00 317.82 L457.25 317.90 L457.50 318.08 L457.75 317.86 L458.00 317.74 L458.25 317.15 L458.50 316.95 L458.75 317.18 L459.00 317.22 L459.25 317.15 L459.50 317.01 L459.75 316.14 L460.00 315.27 L460.25 314.74 L460.50 314.83 L460.75 315.18 L461.00 315.68 L461.25 315.81 L461.50 315.76 L461.75 315.73 L462.00 315.41 L462.25 315.19 L462.50 314.55 L462.75 314.58 L463.00 314.08 L463.25 314.10 L463.50 313.77 L463.75 312.93 L464.00 310.96 L464.25 306.87 L464.50 300.15 L464.75 292.67 L465.00 288.90 L465.25 290.77 L465.50 296.18 L465.75 302.47 L466.00 307.55 L466.25 310.76 L466.50 312.83 L466.75 313.51 L467.00 314.03 L467.25 314.48 L467.50 315.19 L467.75 315.47 L468.00 315.75 L468.25 315.48 L468.50 314.91 L468.75 314.41 L469.00 314.70 L469.25 314.99 L469.50 315.13 L469.75 315.09 L470.00 315.41 L470.25 315.73 L470.50 315.74 L470.75 315.60 L471.00 315.82 L471.25 316.20 L471.50 315.95 L471.75 315.60 L472.00 315.57 L472.25 315.61 L472.50 315.86 L472.75 315.68 L473.00 316.01 L473.25 316.23 L473.50 316.19 L473.75 315.88 L474.00 316.13 L474.25 315.57 L474.50 314.94 L474.75 312.26 L475.00 306.47 L475.25 298.10 L475.50 291.10 L475.75 291.78 L476.00 297.07 L476.25 303.82 L476.50 309.37 L476.75 312.84 L477.00 314.75 L477.25 315.92 L477.50 315.98 L477.75 316.13 L478.00 316.06 L478.25 316.59 L478.50 316.33 L478.75 316.05 L479.00 315.83 L479.25 315.88 L479.50 316.32 L479.75 316.65 L480.00 316.77 L480.25 317.02 L480.50 317.05 L480.75 316.38 L481.00 315.30 L481.25 314.05 L481.50 310.30 L481.75 300.97 L482.00 285.71 L482.25 268.47 L482.50 260.56 L482.75 264.95 L483.00 276.07 L483.25 289.03 L483.50 300.01 L483.75 307.22 L484.00 311.68 L484.25 313.41 L484.50 314.88 L484.75 315.20 L485.00 315.45 L485.25 316.00 L485.50 316.38 L485.75 316.32 L486.00 315.89 L486.25 315.75 L486.50 315.22 L486.75 314.28 L487.00 310.90 L487.25 306.00 L487.50 302.54 L487.75 302.32 L488.00 305.32 L488.25 309.60 L488.50 313.07 L488.75 314.63 L489.00 315.28 L489.25 315.49 L489.50 316.22 L489.75 316.23 L490.00 316.60 L490.25 317.00 L490.50 316.87 L490.75 316.71 L491.00 317.13 L491.25 317.19 L491.50 316.97 L491.75 317.15 L492.00 316.99 L492.25 316.82 L492.50 316.47 L492.75 316.77 L493.00 317.06 L493.25 316.88 L493.50 316.65 L493.75 315.23 L494.00 313.76 L494.25 312.54 L494.50 312.20 L494.75 312.59 L495.00 313.08 L495.25 313.89 L495.50 314.96 L495.75 315.91 L496.00 316.93 L496.25 317.01 L496.50 317.47 L496.75 317.71 L497.00 317.95 L497.25 318.08 L497.50 318.07 L497.75 317.84 L498.00 317.65 L498.25 317.53 L498.50 317.71 L498.75 317.17 L499.00 316.63 L499.25 316.43 L499.50 315.83 L499.75 315.45 L500.00 315.50 L500.25 316.25 L500.50 316.73 L500.75 317.57 L501.00 318.07 L501.25 318.49 L501.50 318.23 L501.75 317.79 L502.00 317.34 L502.25 317.13 L502.50 316.85 L502.75 316.07 L503.00 314.99 L503.25 314.22 L503.50 314.04 L503.75 314.36 L504.00 315.05 L504.25 315.94 L504.50 316.61 L504.75 316.66 L505.00 317.14 L505.25 316.90 L505.50 316.73 L505.75 316.29 L506.00 316.24 L506.25 316.16 L506.50 316.38 L506.75 316.69 L507.00 316.89 L507.25 317.62 L507.50 317.94 L507.75 318.01 L508.00 318.15 L508.25 318.76 L508.50 318.91 L508.75 318.83 L509.00 319.27 L509.25 319.53 L509.50 319.94 L509.75 319.54 L510.00 319.52 L510.25 319.80 L510.50 320.04 L510.75 320.30 L511.00 319.82 L511.25 319.64 L511.50 319.37 L511.75 319.22 L512.00 319.73 L512.25 319.83 L512.50 320.20 L512.75 320.06 L513.00 320.35 L513.25 320.24 L513.50 320.01 L513.75 320.23 L514.00 320.55 L514.25 320.14 L514.50 320.21 L514.75 320.28 L515.00 320.03 L515.25 319.95 L515.50 319.70 L515.75 319.56 L516.00 319.50 L516.25 319.72 L516.50 319.95 L516.75 319.77 L517.00 319.48 L517.25 319.51 L517.50 319.82 L517.75 319.67 L518.00 319.66 L518.25 319.56 L518.50 319.95 L518.75 320.06 L519.00 319.76 L519.25 319.55 L519.50 319.62 L519.75 319.80 L520.00 320.02 L520.25 319.75 L520.50 319.58 L520.75 319.84 L521.00 319.73 L521.25 319.39 L521.50 318.96 L521.75 319.07 L522.00 318.79 L522.25 319.07 L522.50 319.45 L522.75 320.04 L523.00 320.99 L523.25 321.71 L523.50 321.45 L523.75 320.83 L524.00 320.72 L524.25 320.30 L524.50 319.88 L524.75 320.29 L525.00 320.24 L525.25 320.52 L525.50 320.41 L525.75 320.71 L526.00 320.61 L526.25 320.29 L526.50 319.92 L526.75 320.05 L527.00 320.23 L527.25 320.58 L527.50 320.21 L527.75 320.35 L528.00 320.25 L528.25 320.28 L528.50 320.02 L528.75 319.92 L529.00 320.03 L529.25 320.44 L529.50 320.12 L529.75 320.17 L530.00 320.46 L530.25 320.82 L530.50 320.49 L530.75 320.17 L531.00 320.57 L531.25 320.92 L531.50 320.80 L531.75 320.37 L532.00 320.72 L532.25 320.57 L532.50 320.86 L532.75 320.87 L533.00 321.04 L533.25 320.64 L533.50 320.83 L533.75 320.52 L534.00 320.43 L534.25 320.70 L534.50 320.91 L534.75 320.56 L535.00 320.31 L535.25 320.26 L535.50 320.31 L535.75 320.24 L536.00 319.98 L536.25 319.87 L536.50 320.16 L536.75 320.54 L537.00 320.15 L537.25 320.26 L537.50 320.51 L537.75 320.13 L538.00 320.46 L538.25 320.16 L538.50 320.30 L538.75 320.37 L539.00 320.49 L539.25 320.33 L539.50 320.29 L539.75 320.39 L540.00 320.35 L540.25 320.50 L540.50 320.45 L540.75 320.41 L541.00 320.04 L541.25 320.22 L541.50 320.27 L541.75 320.10 L542.00 320.39 L542.25 320.63 L542.50 320.57 L542.75 320.30 L543.00 320.31 L543.25 320.04 L543.50 319.83 L543.75 319.91 L544.00 319.70 L544.25 319.81 L544.50 319.96 L544.75 319.70 L545.00 319.97 L545.25 319.74 L545.50 320.08" class="tr"/>
<text x="464.15" y="283.45" class="pl" text-anchor="middle">3</text>
<text x="475.65" y="285.15" class="pl" text-anchor="middle">5</text>
<text x="482.75" y="256.45" class="pl" text-anchor="middle">6</text>
<rect x="2.50" y="347.50" width="266.00" height="161" fill="none" stroke="#c8c8c8" stroke-width="1.3"/>
<text transform="translate(3.80 354.40) scale(0.87 1)" class="mau">mAU</text>
<text transform="translate(26.00 375.00) scale(0.880 1)" class="big">E</text>
<line x1="16.30" y1="355.60" x2="16.30" y2="501.20" class="yax"/>
<text transform="translate(14.60 367.30) scale(0.84 1)" class="tl" text-anchor="end">30</text>
<text transform="translate(14.60 389.50) scale(0.84 1)" class="tl" text-anchor="end">25</text>
<text transform="translate(14.60 411.70) scale(0.84 1)" class="tl" text-anchor="end">20</text>
<text transform="translate(14.60 433.90) scale(0.84 1)" class="tl" text-anchor="end">15</text>
<text transform="translate(14.60 456.10) scale(0.84 1)" class="tl" text-anchor="end">10</text>
<text transform="translate(14.60 478.30) scale(0.84 1)" class="tl" text-anchor="end">5</text>
<text transform="translate(14.60 500.50) scale(0.84 1)" class="tl" text-anchor="end">0</text>
<line x1="16.30" y1="501.20" x2="266.20" y2="501.20" class="ax"/>
<text transform="translate(39.70 507.80) scale(0.8 1)" class="tl" text-anchor="middle">1</text>
<text transform="translate(64.70 507.80) scale(0.8 1)" class="tl" text-anchor="middle">2</text>
<text transform="translate(89.70 507.80) scale(0.8 1)" class="tl" text-anchor="middle">3</text>
<text transform="translate(114.70 507.80) scale(0.8 1)" class="tl" text-anchor="middle">4</text>
<text transform="translate(139.70 507.80) scale(0.8 1)" class="tl" text-anchor="middle">5</text>
<text transform="translate(164.70 507.80) scale(0.8 1)" class="tl" text-anchor="middle">6</text>
<text transform="translate(189.70 507.80) scale(0.8 1)" class="tl" text-anchor="middle">7</text>
<text transform="translate(214.70 507.80) scale(0.8 1)" class="tl" text-anchor="middle">8</text>
<text transform="translate(239.70 507.80) scale(0.8 1)" class="tl" text-anchor="middle">9</text>
<path d="M14.70 365.00H16.70 M15.60 370.55H17.00 M15.60 376.10H17.00 M15.60 381.65H17.00 M14.70 387.20H16.70 M15.60 392.75H17.00 M15.60 398.30H17.00 M15.60 403.85H17.00 M14.70 409.40H16.70 M15.60 414.95H17.00 M15.60 420.50H17.00 M15.60 426.05H17.00 M14.70 431.60H16.70 M15.60 437.15H17.00 M15.60 442.70H17.00 M15.60 448.25H17.00 M14.70 453.80H16.70 M15.60 459.35H17.00 M15.60 464.90H17.00 M15.60 470.45H17.00 M14.70 476.00H16.70 M15.60 481.55H17.00 M15.60 487.10H17.00 M15.60 492.65H17.00 M14.70 498.20H16.70 M15.60 359.45H17.00 M40.15 501.20V503.00 M65.15 501.20V503.00 M90.15 501.20V503.00 M115.15 501.20V503.00 M140.15 501.20V503.00 M165.15 501.20V503.00 M190.15 501.20V503.00 M215.15 501.20V503.00 M240.15 501.20V503.00 M20.15 501.20V502.10 M25.15 501.20V502.10 M30.15 501.20V502.10 M35.15 501.20V502.10 M45.15 501.20V502.10 M50.15 501.20V502.10 M55.15 501.20V502.10 M60.15 501.20V502.10 M70.15 501.20V502.10 M75.15 501.20V502.10 M80.15 501.20V502.10 M85.15 501.20V502.10 M95.15 501.20V502.10 M100.15 501.20V502.10 M105.15 501.20V502.10 M110.15 501.20V502.10 M120.15 501.20V502.10 M125.15 501.20V502.10 M130.15 501.20V502.10 M135.15 501.20V502.10 M145.15 501.20V502.10 M150.15 501.20V502.10 M155.15 501.20V502.10 M160.15 501.20V502.10 M170.15 501.20V502.10 M175.15 501.20V502.10 M180.15 501.20V502.10 M185.15 501.20V502.10 M195.15 501.20V502.10 M200.15 501.20V502.10 M205.15 501.20V502.10 M210.15 501.20V502.10 M220.15 501.20V502.10 M225.15 501.20V502.10 M230.15 501.20V502.10 M235.15 501.20V502.10 M245.15 501.20V502.10 M250.15 501.20V502.10 M255.15 501.20V502.10 M260.15 501.20V502.10" class="tk"/>
<text x="259.20" y="507.80" class="minl">min</text>
<path d="M16.70 498.34 L16.95 498.22 L17.20 498.31 L17.45 498.18 L17.70 498.23 L17.95 498.22 L18.20 498.10 L18.45 498.16 L18.70 498.04 L18.95 498.09 L19.20 498.00 L19.45 497.93 L19.70 498.00 L19.95 498.19 L20.20 498.10 L20.45 498.06 L20.70 498.17 L20.95 498.38 L21.20 498.41 L21.45 498.37 L21.70 498.55 L21.95 498.36 L22.20 498.49 L22.45 498.40 L22.70 498.27 L22.95 498.16 L23.20 498.14 L23.45 498.30 L23.70 498.21 L23.95 498.28 L24.20 498.35 L24.45 498.32 L24.70 498.35 L24.95 498.20 L25.20 498.08 L25.45 498.04 L25.70 498.18 L25.95 498.20 L26.20 498.17 L26.45 498.25 L26.70 498.26 L26.95 498.22 L27.20 498.36 L27.45 498.44 L27.70 498.34 L27.95 498.38 L28.20 498.39 L28.45 498.53 L28.70 498.59 L28.95 498.47 L29.20 498.63 L29.45 498.45 L29.70 498.41 L29.95 498.50 L30.20 498.35 L30.45 498.36 L30.70 498.20 L30.95 498.30 L31.20 498.42 L31.45 498.44 L31.70 498.57 L31.95 498.47 L32.20 498.52 L32.45 498.53 L32.70 498.53 L32.95 498.49 L33.20 498.60 L33.45 498.72 L33.70 498.64 L33.95 498.65 L34.20 498.45 L34.45 498.51 L34.70 498.54 L34.95 498.69 L35.20 498.75 L35.45 498.60 L35.70 498.52 L35.95 498.56 L36.20 498.35 L36.45 498.35 L36.70 498.24 L36.95 498.13 L37.20 498.03 L37.45 498.20 L37.70 498.11 L37.95 498.07 L38.20 498.10 L38.45 498.29 L38.70 498.16 L38.95 498.19 L39.20 498.25 L39.45 498.42 L39.70 498.53 L39.95 498.64 L40.20 498.51 L40.45 498.46 L40.70 498.39 L40.95 498.53 L41.20 498.67 L41.45 498.49 L41.70 498.36 L41.95 498.27 L42.20 498.20 L42.45 498.23 L42.70 498.30 L42.95 498.23 L43.20 498.09 L43.45 498.12 L43.70 498.13 L43.95 498.21 L44.20 498.41 L44.45 498.48 L44.70 498.47 L44.95 498.50 L45.20 498.54 L45.45 498.35 L45.70 498.50 L45.95 498.58 L46.20 498.68 L46.45 498.73 L46.70 498.63 L46.95 498.55 L47.20 498.37 L47.45 498.43 L47.70 498.26 L47.95 498.14 L48.20 498.08 L48.45 498.03 L48.70 498.04 L48.95 497.95 L49.20 497.86 L49.45 497.84 L49.70 497.81 L49.95 497.88 L50.20 497.81 L50.45 498.07 L50.70 498.17 L50.95 498.09 L51.20 498.06 L51.45 498.08 L51.70 498.09 L51.95 498.02 L52.20 498.22 L52.45 498.43 L52.70 498.41 L52.95 498.41 L53.20 498.26 L53.45 498.14 L53.70 498.14 L53.95 498.10 L54.20 498.28 L54.45 498.18 L54.70 498.06 L54.95 498.29 L55.20 498.32 L55.45 498.21 L55.70 498.26 L55.95 498.12 L56.20 498.19 L56.45 498.40 L56.70 498.53 L56.95 498.58 L57.20 498.45 L57.45 498.40 L57.70 498.28 L57.95 498.40 L58.20 498.41 L58.45 498.51 L58.70 498.43 L58.95 498.32 L59.20 498.45 L59.45 498.61 L59.70 498.70 L59.95 498.75 L60.20 498.79 L60.45 498.80 L60.70 498.62 L60.95 498.58 L61.20 498.50 L61.45 498.31 L61.70 498.16 L61.95 498.13 L62.20 498.09 L62.45 498.22 L62.70 498.42 L62.95 498.40 L63.20 498.56 L63.45 498.70 L63.70 498.80 L63.95 498.68 L64.20 498.52 L64.45 498.40 L64.70 498.29 L64.95 498.20 L65.20 498.29 L65.45 498.45 L65.70 498.57 L65.95 498.53 L66.20 498.56 L66.45 498.63 L66.70 498.44 L66.95 498.49 L67.20 498.62 L67.45 498.68 L67.70 498.71 L67.95 498.64 L68.20 498.48 L68.45 498.57 L68.70 498.47 L68.95 498.57 L69.20 498.70 L69.45 498.60 L69.70 498.53 L69.95 498.66 L70.20 498.69 L70.45 498.51 L70.70 498.36 L70.95 498.24 L71.20 498.42 L71.45 498.52 L71.70 498.37 L71.95 498.50 L72.20 498.65 L72.45 498.66 L72.70 498.55 L72.95 498.54 L73.20 498.38 L73.45 498.21 L73.70 498.42 L73.95 498.47 L74.20 498.46 L74.45 498.61 L74.70 498.54 L74.95 498.65 L75.20 498.71 L75.45 498.55 L75.70 498.43 L75.95 498.35 L76.20 498.27 L76.45 498.32 L76.70 498.25 L76.95 498.25 L77.20 498.15 L77.45 498.35 L77.70 498.30 L77.95 498.31 L78.20 498.36 L78.45 498.51 L78.70 498.46 L78.95 498.60 L79.20 498.56 L79.45 498.54 L79.70 498.52 L79.95 498.32 L80.20 498.32 L80.45 498.22 L80.70 498.08 L80.95 498.25 L81.20 498.16 L81.45 498.20 L81.70 498.32 L81.95 498.36 L82.20 498.30 L82.45 498.33 L82.70 498.36 L82.95 498.47 L83.20 498.32 L83.45 498.35 L83.70 498.27 L83.95 498.22 L84.20 498.35 L84.45 498.36 L84.70 498.39 L84.95 498.49 L85.20 498.62 L85.45 498.56 L85.70 498.56 L85.95 498.53 L86.20 498.51 L86.45 498.56 L86.70 498.51 L86.95 498.50 L87.20 498.47 L87.45 498.62 L87.70 498.64 L87.95 498.73 L88.20 498.82 L88.45 498.65 L88.70 498.62 L88.95 498.74 L89.20 498.79 L89.45 498.58 L89.70 498.41 L89.95 498.39 L90.20 498.24 L90.45 498.18 L90.70 498.07 L90.95 498.19 L91.20 498.34 L91.45 498.49 L91.70 498.35 L91.95 498.44 L92.20 498.49 L92.45 498.34 L92.70 498.49 L92.95 498.64 L93.20 498.49 L93.45 498.64 L93.70 498.55 L93.95 498.52 L94.20 498.67 L94.45 498.74 L94.70 498.55 L94.95 498.49 L95.20 498.48 L95.45 498.41 L95.70 498.30 L95.95 498.25 L96.20 498.36 L96.45 498.20 L96.70 498.26 L96.95 498.26 L97.20 498.12 L97.45 498.11 L97.70 498.22 L97.95 498.26 L98.20 498.13 L98.45 498.36 L98.70 498.47 L98.95 498.63 L99.20 498.44 L99.45 498.35 L99.70 498.19 L99.95 498.33 L100.20 498.26 L100.45 498.16 L100.70 498.18 L100.95 498.37 L101.20 498.49 L101.45 498.39 L101.70 498.26 L101.95 498.44 L102.20 498.46 L102.45 498.52 L102.70 498.35 L102.95 498.20 L103.20 498.31 L103.45 498.30 L103.70 498.16 L103.95 498.37 L104.20 498.42 L104.45 498.53 L104.70 498.35 L104.95 498.49 L105.20 498.32 L105.45 498.46 L105.70 498.43 L105.95 498.37 L106.20 498.39 L106.45 498.55 L106.70 498.44 L106.95 498.30 L107.20 498.33 L107.45 498.25 L107.70 498.14 L107.95 498.07 L108.20 497.97 L108.45 497.95 L108.70 497.97 L108.95 497.99 L109.20 498.16 L109.45 498.14 L109.70 498.19 L109.95 498.11 L110.20 498.12 L110.45 498.00 L110.70 497.99 L110.95 497.90 L111.20 498.08 L111.45 498.16 L111.70 498.10 L111.95 498.15 L112.20 498.36 L112.45 498.22 L112.70 498.37 L112.95 498.35 L113.20 498.36 L113.45 498.49 L113.70 498.43 L113.95 498.43 L114.20 498.49 L114.45 498.65 L114.70 498.54 L114.95 498.63 L115.20 498.66 L115.45 498.66 L115.70 498.57 L115.95 498.48 L116.20 498.31 L116.45 498.19 L116.70 498.08 L116.95 498.23 L117.20 498.18 L117.45 498.10 L117.70 498.01 L117.95 498.21 L118.20 498.38 L118.45 498.45 L118.70 498.36 L118.95 498.27 L119.20 498.23 L119.45 498.25 L119.70 498.15 L119.95 498.18 L120.20 498.14 L120.45 498.36 L120.70 498.54 L120.95 498.53 L121.20 498.41 L121.45 498.58 L121.70 498.47 L121.95 498.41 L122.20 498.22 L122.45 498.22 L122.70 498.24 L122.95 498.28 L123.20 498.19 L123.45 498.24 L123.70 498.09 L123.95 498.07 L124.20 497.99 L124.45 498.03 L124.70 497.94 L124.95 497.86 L125.20 497.90 L125.45 497.90 L125.70 498.03 L125.95 498.12 L126.20 498.26 L126.45 498.35 L126.70 498.44 L126.95 498.57 L127.20 498.44 L127.45 498.30 L127.70 498.70 L127.95 498.36 L128.20 498.55 L128.45 498.63 L128.70 498.22 L128.95 498.53 L129.20 498.81 L129.45 498.83 L129.70 498.93 L129.95 499.08 L130.20 498.67 L130.45 498.66 L130.70 498.64 L130.95 498.89 L131.20 499.07 L131.45 499.23 L131.70 499.18 L131.95 499.38 L132.20 499.38 L132.45 499.40 L132.70 499.04 L132.95 498.60 L133.20 498.33 L133.45 498.28 L133.70 497.99 L133.95 498.17 L134.20 497.69 L134.45 496.77 L134.70 495.53 L134.95 494.62 L135.20 494.44 L135.45 494.69 L135.70 496.09 L135.95 497.40 L136.20 498.21 L136.45 498.72 L136.70 499.06 L136.95 498.77 L137.20 499.04 L137.45 498.85 L137.70 498.53 L137.95 498.36 L138.20 498.59 L138.45 498.33 L138.70 498.54 L138.95 498.89 L139.20 498.77 L139.45 498.56 L139.70 498.47 L139.95 498.54 L140.20 498.65 L140.45 498.61 L140.70 498.58 L140.95 498.09 L141.20 497.74 L141.45 497.53 L141.70 497.75 L141.95 497.55 L142.20 497.59 L142.45 497.17 L142.70 496.85 L142.95 496.75 L143.20 496.98 L143.45 497.17 L143.70 497.29 L143.95 497.07 L144.20 497.06 L144.45 496.99 L144.70 496.93 L144.95 496.59 L145.20 496.95 L145.45 496.69 L145.70 497.09 L145.95 497.37 L146.20 496.86 L146.45 496.79 L146.70 497.01 L146.95 497.28 L147.20 497.06 L147.45 496.70 L147.70 496.32 L147.95 496.52 L148.20 495.99 L148.45 495.74 L148.70 495.02 L148.95 494.57 L149.20 494.35 L149.45 493.31 L149.70 492.85 L149.95 492.08 L150.20 491.68 L150.45 491.19 L150.70 490.48 L150.95 490.57 L151.20 490.49 L151.45 490.20 L151.70 490.11 L151.95 490.61 L152.20 491.13 L152.45 491.58 L152.70 491.94 L152.95 492.48 L153.20 492.97 L153.45 493.84 L153.70 493.87 L153.95 494.51 L154.20 495.09 L154.45 494.97 L154.70 495.50 L154.95 495.73 L155.20 496.05 L155.45 495.80 L155.70 495.65 L155.95 495.53 L156.20 495.91 L156.45 495.87 L156.70 495.64 L156.95 495.51 L157.20 495.27 L157.45 494.88 L157.70 494.61 L157.95 494.97 L158.20 494.81 L158.45 495.19 L158.70 494.94 L158.95 494.74 L159.20 494.77 L159.45 494.53 L159.70 494.48 L159.95 494.89 L160.20 495.16 L160.45 495.30 L160.70 495.28 L160.95 495.48 L161.20 495.63 L161.45 495.32 L161.70 494.88 L161.95 493.31 L162.20 491.66 L162.45 489.44 L162.70 488.18 L162.95 488.27 L163.20 489.15 L163.45 490.42 L163.70 492.33 L163.95 492.91 L164.20 493.09 L164.45 492.52 L164.70 491.69 L164.95 491.51 L165.20 492.10 L165.45 492.54 L165.70 493.45 L165.95 493.83 L166.20 494.16 L166.45 494.15 L166.70 493.86 L166.95 493.52 L167.20 493.09 L167.45 493.09 L167.70 492.63 L167.95 492.16 L168.20 492.65 L168.45 493.43 L168.70 493.76 L168.95 493.73 L169.20 493.64 L169.45 493.41 L169.70 493.34 L169.95 492.97 L170.20 492.58 L170.45 492.03 L170.70 491.70 L170.95 491.82 L171.20 492.17 L171.45 492.54 L171.70 493.00 L171.95 493.41 L172.20 493.50 L172.45 493.45 L172.70 493.13 L172.95 492.98 L173.20 493.32 L173.45 492.81 L173.70 492.64 L173.95 492.66 L174.20 493.02 L174.45 492.93 L174.70 492.98 L174.95 492.97 L175.20 493.06 L175.45 493.14 L175.70 493.60 L175.95 493.88 L176.20 494.12 L176.45 493.64 L176.70 493.26 L176.95 493.50 L177.20 493.85 L177.45 493.78 L177.70 493.80 L177.95 493.28 L178.20 493.03 L178.45 492.94 L178.70 492.32 L178.95 491.33 L179.20 490.31 L179.45 489.05 L179.70 488.52 L179.95 488.91 L180.20 490.12 L180.45 491.41 L180.70 492.50 L180.95 492.86 L181.20 492.71 L181.45 492.23 L181.70 490.98 L181.95 489.12 L182.20 485.79 L182.45 481.77 L182.70 475.72 L182.95 469.01 L183.20 461.57 L183.45 454.68 L183.70 449.95 L183.95 448.70 L184.20 450.87 L184.45 455.49 L184.70 461.22 L184.95 467.60 L185.20 474.12 L185.45 479.75 L185.70 484.02 L185.95 487.00 L186.20 489.34 L186.45 490.46 L186.70 491.38 L186.95 492.12 L187.20 493.04 L187.45 493.49 L187.70 494.02 L187.95 494.11 L188.20 493.98 L188.45 493.85 L188.70 494.22 L188.95 494.13 L189.20 493.48 L189.45 492.55 L189.70 492.27 L189.95 492.54 L190.20 492.96 L190.45 493.39 L190.70 494.05 L190.95 494.67 L191.20 494.51 L191.45 494.16 L191.70 494.04 L191.95 493.86 L192.20 493.66 L192.45 492.55 L192.70 490.79 L192.95 485.80 L193.20 474.25 L193.45 455.36 L193.70 437.38 L193.95 431.64 L194.20 440.98 L194.45 457.40 L194.70 473.20 L194.95 484.22 L195.20 489.69 L195.45 492.68 L195.70 493.83 L195.95 494.16 L196.20 494.30 L196.45 494.48 L196.70 494.76 L196.95 495.18 L197.20 494.85 L197.45 494.78 L197.70 494.57 L197.95 495.01 L198.20 494.69 L198.45 494.36 L198.70 494.08 L198.95 494.09 L199.20 494.40 L199.45 494.45 L199.70 494.01 L199.95 493.13 L200.20 490.59 L200.45 483.42 L200.70 467.92 L200.95 443.79 L201.20 419.75 L201.45 411.88 L201.70 421.26 L201.95 439.30 L202.20 458.74 L202.45 473.98 L202.70 483.39 L202.95 488.26 L203.20 490.83 L203.45 492.20 L203.70 493.46 L203.95 493.62 L204.20 494.22 L204.45 493.73 L204.70 492.74 L204.95 491.28 L205.20 489.22 L205.45 487.30 L205.70 486.67 L205.95 487.81 L206.20 489.60 L206.45 491.86 L206.70 493.00 L206.95 493.75 L207.20 494.51 L207.45 494.27 L207.70 494.30 L207.95 494.62 L208.20 494.83 L208.45 494.42 L208.70 494.08 L208.95 493.84 L209.20 494.32 L209.45 494.18 L209.70 494.46 L209.95 494.79 L210.20 494.55 L210.45 494.19 L210.70 494.25 L210.95 493.82 L211.20 493.17 L211.45 493.21 L211.70 493.21 L211.95 493.38 L212.20 493.41 L212.45 494.04 L212.70 494.61 L212.95 494.78 L213.20 495.12 L213.45 494.65 L213.70 494.43 L213.95 494.44 L214.20 494.83 L214.45 495.10 L214.70 494.73 L214.95 494.05 L215.20 493.39 L215.45 493.01 L215.70 493.49 L215.95 493.61 L216.20 494.35 L216.45 494.85 L216.70 495.22 L216.95 495.36 L217.20 495.18 L217.45 494.50 L217.70 493.44 L217.95 492.13 L218.20 491.33 L218.45 490.67 L218.70 490.94 L218.95 492.16 L219.20 493.01 L219.45 493.53 L219.70 493.79 L219.95 494.26 L220.20 494.37 L220.45 494.93 L220.70 495.29 L220.95 495.67 L221.20 495.39 L221.45 495.03 L221.70 494.75 L221.95 494.86 L222.20 495.11 L222.45 495.10 L222.70 494.92 L222.95 494.92 L223.20 495.07 L223.45 495.16 L223.70 495.10 L223.95 494.79 L224.20 494.02 L224.45 492.82 L224.70 492.74 L224.95 492.77 L225.20 493.43 L225.45 494.04 L225.70 494.85 L225.95 494.98 L226.20 495.00 L226.45 494.94 L226.70 494.78 L226.95 495.22 L227.20 495.32 L227.45 495.20 L227.70 495.16 L227.95 495.60 L228.20 495.57 L228.45 495.32 L228.70 495.59 L228.95 495.67 L229.20 496.01 L229.45 495.58 L229.70 495.52 L229.95 495.76 L230.20 495.96 L230.45 496.18 L230.70 495.66 L230.95 495.45 L231.20 495.14 L231.45 494.94 L231.70 495.42 L231.95 495.48 L232.20 495.81 L232.45 495.63 L232.70 495.88 L232.95 495.75 L233.20 495.49 L233.45 495.70 L233.70 496.00 L233.95 495.57 L234.20 495.62 L234.45 495.68 L234.70 495.40 L234.95 495.30 L235.20 495.04 L235.45 494.88 L235.70 494.79 L235.95 495.00 L236.20 495.21 L236.45 495.01 L236.70 494.71 L236.95 494.71 L237.20 495.00 L237.45 494.83 L237.70 494.80 L237.95 494.69 L238.20 495.08 L238.45 495.19 L238.70 494.89 L238.95 494.67 L239.20 494.72 L239.45 494.83 L239.70 494.84 L239.95 494.14 L240.20 493.36 L240.45 493.04 L240.70 492.79 L240.95 492.89 L241.20 493.30 L241.45 494.33 L241.70 494.67 L241.95 495.07 L242.20 495.13 L242.45 495.18 L242.70 495.54 L242.95 495.92 L243.20 495.72 L243.45 495.42 L243.70 495.61 L243.95 495.34 L244.20 494.97 L244.45 495.39 L244.70 495.34 L244.95 495.62 L245.20 495.51 L245.45 495.80 L245.70 495.70 L245.95 495.38 L246.20 495.01 L246.45 495.14 L246.70 495.32 L246.95 495.67 L247.20 495.30 L247.45 495.43 L247.70 495.33 L247.95 495.36 L248.20 495.10 L248.45 495.00 L248.70 495.11 L248.95 495.52 L249.20 495.19 L249.45 495.24 L249.70 495.53 L249.95 495.89 L250.20 495.56 L250.45 495.24 L250.70 495.64 L250.95 495.99 L251.20 495.87 L251.45 495.43 L251.70 495.78 L251.95 495.63 L252.20 495.92 L252.45 495.93 L252.70 496.10 L252.95 495.70 L253.20 495.88 L253.45 495.58 L253.70 495.48 L253.95 495.75 L254.20 495.95 L254.45 495.57 L254.70 495.24 L254.95 495.02 L255.20 494.82 L255.45 494.51 L255.70 494.15 L255.95 494.11 L256.20 494.59 L256.45 495.18 L256.70 494.97 L256.95 495.20 L257.20 495.50 L257.45 495.15 L257.70 495.49 L257.95 495.19 L258.20 495.33 L258.45 495.40 L258.70 495.52 L258.95 495.36 L259.20 495.32 L259.45 495.42 L259.70 495.37 L259.95 495.52 L260.20 495.47 L260.45 495.43 L260.70 495.06 L260.95 495.24 L261.20 495.28 L261.45 495.11 L261.70 495.40 L261.95 495.64 L262.20 495.58 L262.45 495.31 L262.70 495.32 L262.95 495.04 L263.20 494.84 L263.45 494.91 L263.70 494.70 L263.95 494.82 L264.20 494.96 L264.45 494.70 L264.70 494.97 L264.95 494.74 L265.20 495.08 L265.45 495.39 L265.70 495.42 L265.95 495.08" class="tr"/>
<text x="183.95" y="442.85" class="pl" text-anchor="middle">3</text>
<text x="194.05" y="425.95" class="pl" text-anchor="middle">5</text>
<text x="201.15" y="405.35" class="pl" text-anchor="middle">6</text>
<rect x="282.00" y="347.50" width="265.50" height="161" fill="none" stroke="#c8c8c8" stroke-width="1.3"/>
<text transform="translate(284.10 354.40) scale(0.87 1)" class="mau">mAU</text>
<text transform="translate(306.00 375.00) scale(0.860 1)" class="big">F</text>
<line x1="296.60" y1="355.60" x2="296.60" y2="501.20" class="yax"/>
<text transform="translate(294.90 367.30) scale(0.84 1)" class="tl" text-anchor="end">12</text>
<text transform="translate(294.90 389.50) scale(0.84 1)" class="tl" text-anchor="end">10</text>
<text transform="translate(294.90 411.70) scale(0.84 1)" class="tl" text-anchor="end">8</text>
<text transform="translate(294.90 433.90) scale(0.84 1)" class="tl" text-anchor="end">6</text>
<text transform="translate(294.90 456.10) scale(0.84 1)" class="tl" text-anchor="end">4</text>
<text transform="translate(294.90 478.30) scale(0.84 1)" class="tl" text-anchor="end">2</text>
<text transform="translate(294.90 500.50) scale(0.84 1)" class="tl" text-anchor="end">0</text>
<line x1="296.60" y1="501.20" x2="545.70" y2="501.20" class="ax"/>
<text transform="translate(319.85 507.80) scale(0.8 1)" class="tl" text-anchor="middle">1</text>
<text transform="translate(344.85 507.80) scale(0.8 1)" class="tl" text-anchor="middle">2</text>
<text transform="translate(369.85 507.80) scale(0.8 1)" class="tl" text-anchor="middle">3</text>
<text transform="translate(394.85 507.80) scale(0.8 1)" class="tl" text-anchor="middle">4</text>
<text transform="translate(419.85 507.80) scale(0.8 1)" class="tl" text-anchor="middle">5</text>
<text transform="translate(444.85 507.80) scale(0.8 1)" class="tl" text-anchor="middle">6</text>
<text transform="translate(469.85 507.80) scale(0.8 1)" class="tl" text-anchor="middle">7</text>
<text transform="translate(494.85 507.80) scale(0.8 1)" class="tl" text-anchor="middle">8</text>
<text transform="translate(519.85 507.80) scale(0.8 1)" class="tl" text-anchor="middle">9</text>
<path d="M295.00 365.00H297.00 M295.90 370.55H297.30 M295.90 376.10H297.30 M295.90 381.65H297.30 M295.00 387.20H297.00 M295.90 392.75H297.30 M295.90 398.30H297.30 M295.90 403.85H297.30 M295.00 409.40H297.00 M295.90 414.95H297.30 M295.90 420.50H297.30 M295.90 426.05H297.30 M295.00 431.60H297.00 M295.90 437.15H297.30 M295.90 442.70H297.30 M295.90 448.25H297.30 M295.00 453.80H297.00 M295.90 459.35H297.30 M295.90 464.90H297.30 M295.90 470.45H297.30 M295.00 476.00H297.00 M295.90 481.55H297.30 M295.90 487.10H297.30 M295.90 492.65H297.30 M295.00 498.20H297.00 M295.90 359.45H297.30 M320.30 501.20V503.00 M345.30 501.20V503.00 M370.30 501.20V503.00 M395.30 501.20V503.00 M420.30 501.20V503.00 M445.30 501.20V503.00 M470.30 501.20V503.00 M495.30 501.20V503.00 M520.30 501.20V503.00 M300.30 501.20V502.10 M305.30 501.20V502.10 M310.30 501.20V502.10 M315.30 501.20V502.10 M325.30 501.20V502.10 M330.30 501.20V502.10 M335.30 501.20V502.10 M340.30 501.20V502.10 M350.30 501.20V502.10 M355.30 501.20V502.10 M360.30 501.20V502.10 M365.30 501.20V502.10 M375.30 501.20V502.10 M380.30 501.20V502.10 M385.30 501.20V502.10 M390.30 501.20V502.10 M400.30 501.20V502.10 M405.30 501.20V502.10 M410.30 501.20V502.10 M415.30 501.20V502.10 M425.30 501.20V502.10 M430.30 501.20V502.10 M435.30 501.20V502.10 M440.30 501.20V502.10 M450.30 501.20V502.10 M455.30 501.20V502.10 M460.30 501.20V502.10 M465.30 501.20V502.10 M475.30 501.20V502.10 M480.30 501.20V502.10 M485.30 501.20V502.10 M490.30 501.20V502.10 M500.30 501.20V502.10 M505.30 501.20V502.10 M510.30 501.20V502.10 M515.30 501.20V502.10 M525.30 501.20V502.10 M530.30 501.20V502.10 M535.30 501.20V502.10 M540.30 501.20V502.10" class="tk"/>
<text x="538.70" y="507.80" class="minl">min</text>
<path d="M297.00 497.84 L297.25 497.74 L297.50 497.82 L297.75 497.70 L298.00 497.75 L298.25 497.73 L298.50 497.62 L298.75 497.68 L299.00 497.57 L299.25 497.61 L299.50 497.53 L299.75 497.47 L300.00 497.53 L300.25 497.71 L300.50 497.62 L300.75 497.59 L301.00 497.69 L301.25 497.87 L301.50 497.90 L301.75 497.86 L302.00 498.02 L302.25 497.85 L302.50 497.97 L302.75 497.88 L303.00 497.77 L303.25 497.67 L303.50 497.65 L303.75 497.80 L304.00 497.71 L304.25 497.77 L304.50 497.84 L304.75 497.80 L305.00 497.83 L305.25 497.70 L305.50 497.59 L305.75 497.55 L306.00 497.68 L306.25 497.69 L306.50 497.67 L306.75 497.74 L307.00 497.75 L307.25 497.71 L307.50 497.84 L307.75 497.91 L308.00 497.82 L308.25 497.85 L308.50 497.86 L308.75 497.98 L309.00 498.04 L309.25 497.93 L309.50 498.07 L309.75 497.91 L310.00 497.87 L310.25 497.95 L310.50 497.82 L310.75 497.83 L311.00 497.69 L311.25 497.77 L311.50 497.88 L311.75 497.90 L312.00 498.01 L312.25 497.92 L312.50 497.97 L312.75 497.98 L313.00 497.98 L313.25 497.94 L313.50 498.03 L313.75 498.14 L314.00 498.08 L314.25 498.08 L314.50 497.90 L314.75 497.95 L315.00 497.98 L315.25 498.11 L315.50 498.16 L315.75 498.03 L316.00 497.96 L316.25 497.99 L316.50 497.81 L316.75 497.80 L317.00 497.70 L317.25 497.61 L317.50 497.51 L317.75 497.67 L318.00 497.58 L318.25 497.55 L318.50 497.57 L318.75 497.75 L319.00 497.63 L319.25 497.66 L319.50 497.71 L319.75 497.86 L320.00 497.96 L320.25 498.05 L320.50 497.94 L320.75 497.89 L321.00 497.83 L321.25 497.96 L321.50 498.08 L321.75 497.92 L322.00 497.80 L322.25 497.72 L322.50 497.65 L322.75 497.68 L323.00 497.74 L323.25 497.68 L323.50 497.55 L323.75 497.58 L324.00 497.59 L324.25 497.66 L324.50 497.84 L324.75 497.90 L325.00 497.89 L325.25 497.91 L325.50 497.95 L325.75 497.78 L326.00 497.92 L326.25 497.99 L326.50 498.08 L326.75 498.12 L327.00 498.03 L327.25 497.95 L327.50 497.80 L327.75 497.85 L328.00 497.70 L328.25 497.58 L328.50 497.53 L328.75 497.48 L329.00 497.50 L329.25 497.41 L329.50 497.33 L329.75 497.32 L330.00 497.29 L330.25 497.35 L330.50 497.29 L330.75 497.51 L331.00 497.61 L331.25 497.53 L331.50 497.51 L331.75 497.52 L332.00 497.53 L332.25 497.47 L332.50 497.65 L332.75 497.84 L333.00 497.82 L333.25 497.81 L333.50 497.68 L333.75 497.57 L334.00 497.57 L334.25 497.54 L334.50 497.70 L334.75 497.61 L335.00 497.49 L335.25 497.70 L335.50 497.73 L335.75 497.63 L336.00 497.68 L336.25 497.55 L336.50 497.60 L336.75 497.80 L337.00 497.91 L337.25 497.95 L337.50 497.84 L337.75 497.79 L338.00 497.68 L338.25 497.79 L338.50 497.80 L338.75 497.89 L339.00 497.81 L339.25 497.72 L339.50 497.83 L339.75 497.98 L340.00 498.06 L340.25 498.10 L340.50 498.14 L340.75 498.15 L341.00 497.99 L341.25 497.95 L341.50 497.87 L341.75 497.70 L342.00 497.56 L342.25 497.54 L342.50 497.51 L342.75 497.62 L343.00 497.80 L343.25 497.78 L343.50 497.92 L343.75 498.05 L344.00 498.14 L344.25 498.03 L344.50 497.88 L344.75 497.77 L345.00 497.68 L345.25 497.60 L345.50 497.67 L345.75 497.82 L346.00 497.92 L346.25 497.89 L346.50 497.91 L346.75 497.98 L347.00 497.80 L347.25 497.85 L347.50 497.96 L347.75 498.02 L348.00 498.05 L348.25 497.98 L348.50 497.84 L348.75 497.91 L349.00 497.83 L349.25 497.91 L349.50 498.04 L349.75 497.95 L350.00 497.88 L350.25 498.00 L350.50 498.02 L350.75 497.86 L351.00 497.72 L351.25 497.62 L351.50 497.78 L351.75 497.87 L352.00 497.73 L352.25 497.84 L352.50 497.98 L352.75 497.99 L353.00 497.89 L353.25 497.88 L353.50 497.73 L353.75 497.58 L354.00 497.77 L354.25 497.81 L354.50 497.81 L354.75 497.94 L355.00 497.88 L355.25 497.97 L355.50 498.03 L355.75 497.88 L356.00 497.77 L356.25 497.70 L356.50 497.63 L356.75 497.68 L357.00 497.61 L357.25 497.61 L357.50 497.52 L357.75 497.70 L358.00 497.66 L358.25 497.66 L358.50 497.70 L358.75 497.84 L359.00 497.79 L359.25 497.92 L359.50 497.88 L359.75 497.86 L360.00 497.84 L360.25 497.67 L360.50 497.66 L360.75 497.57 L361.00 497.44 L361.25 497.60 L361.50 497.52 L361.75 497.55 L362.00 497.66 L362.25 497.69 L362.50 497.64 L362.75 497.67 L363.00 497.70 L363.25 497.79 L363.50 497.65 L363.75 497.69 L364.00 497.61 L364.25 497.56 L364.50 497.68 L364.75 497.69 L365.00 497.72 L365.25 497.80 L365.50 497.92 L365.75 497.86 L366.00 497.87 L366.25 497.84 L366.50 497.82 L366.75 497.86 L367.00 497.82 L367.25 497.81 L367.50 497.78 L367.75 497.91 L368.00 497.94 L368.25 498.01 L368.50 498.10 L368.75 497.94 L369.00 497.92 L369.25 498.02 L369.50 498.07 L369.75 497.88 L370.00 497.72 L370.25 497.70 L370.50 497.56 L370.75 497.51 L371.00 497.41 L371.25 497.52 L371.50 497.65 L371.75 497.79 L372.00 497.66 L372.25 497.74 L372.50 497.78 L372.75 497.65 L373.00 497.79 L373.25 497.92 L373.50 497.79 L373.75 497.91 L374.00 497.84 L374.25 497.81 L374.50 497.94 L374.75 498.00 L375.00 497.83 L375.25 497.78 L375.50 497.77 L375.75 497.70 L376.00 497.60 L376.25 497.56 L376.50 497.66 L376.75 497.51 L377.00 497.56 L377.25 497.57 L377.50 497.44 L377.75 497.43 L378.00 497.52 L378.25 497.56 L378.50 497.44 L378.75 497.65 L379.00 497.75 L379.25 497.89 L379.50 497.72 L379.75 497.64 L380.00 497.50 L380.25 497.62 L380.50 497.56 L380.75 497.47 L381.00 497.48 L381.25 497.66 L381.50 497.76 L381.75 497.67 L382.00 497.56 L382.25 497.72 L382.50 497.73 L382.75 497.79 L383.00 497.63 L383.25 497.50 L383.50 497.59 L383.75 497.58 L384.00 497.46 L384.25 497.65 L384.50 497.70 L384.75 497.79 L385.00 497.63 L385.25 497.75 L385.50 497.60 L385.75 497.73 L386.00 497.70 L386.25 497.64 L386.50 497.66 L386.75 497.80 L387.00 497.70 L387.25 497.57 L387.50 497.60 L387.75 497.53 L388.00 497.43 L388.25 497.36 L388.50 497.28 L388.75 497.26 L389.00 497.28 L389.25 497.29 L389.50 497.45 L389.75 497.42 L390.00 497.47 L390.25 497.40 L390.50 497.40 L390.75 497.30 L391.00 497.29 L391.25 497.20 L391.50 497.37 L391.75 497.44 L392.00 497.38 L392.25 497.43 L392.50 497.61 L392.75 497.49 L393.00 497.63 L393.25 497.61 L393.50 497.62 L393.75 497.73 L394.00 497.68 L394.25 497.67 L394.50 497.73 L394.75 497.87 L395.00 497.77 L395.25 497.85 L395.50 497.88 L395.75 497.88 L396.00 497.80 L396.25 497.72 L396.50 497.56 L396.75 497.45 L397.00 497.35 L397.25 497.49 L397.50 497.44 L397.75 497.37 L398.00 497.29 L398.25 497.47 L398.50 497.62 L398.75 497.68 L399.00 497.60 L399.25 497.52 L399.50 497.48 L399.75 497.50 L400.00 497.41 L400.25 497.44 L400.50 497.40 L400.75 497.59 L401.00 497.75 L401.25 497.74 L401.50 497.64 L401.75 497.79 L402.00 497.69 L402.25 497.63 L402.50 497.47 L402.75 497.46 L403.00 497.49 L403.25 497.51 L403.50 497.44 L403.75 497.48 L404.00 497.35 L404.25 497.32 L404.50 497.25 L404.75 497.29 L405.00 497.21 L405.25 497.14 L405.50 497.17 L405.75 497.17 L406.00 497.29 L406.25 497.36 L406.50 497.59 L406.75 497.71 L407.00 497.85 L407.25 498.07 L407.50 497.90 L407.75 497.72 L408.00 498.05 L408.25 497.71 L408.50 497.85 L408.75 497.90 L409.00 497.52 L409.25 497.78 L409.50 498.02 L409.75 498.03 L410.00 498.11 L410.25 498.24 L410.50 497.85 L410.75 497.82 L411.00 497.78 L411.25 497.98 L411.50 498.13 L411.75 498.26 L412.00 498.19 L412.25 498.35 L412.50 498.33 L412.75 498.32 L413.00 497.94 L413.25 497.44 L413.50 496.87 L413.75 496.12 L414.00 494.82 L414.25 494.12 L414.50 493.78 L414.75 494.28 L415.00 495.26 L415.25 496.42 L415.50 497.26 L415.75 497.46 L416.00 498.05 L416.25 498.39 L416.50 498.45 L416.75 498.40 L417.00 498.43 L417.25 498.02 L417.50 498.16 L417.75 497.91 L418.00 497.58 L418.25 497.44 L418.50 497.65 L418.75 497.43 L419.00 497.62 L419.25 497.94 L419.50 497.84 L419.75 497.66 L420.00 497.58 L420.25 497.66 L420.50 497.76 L420.75 497.73 L421.00 497.71 L421.25 497.28 L421.50 496.98 L421.75 496.80 L422.00 496.99 L422.25 496.83 L422.50 496.87 L422.75 496.50 L423.00 496.22 L423.25 496.14 L423.50 496.35 L423.75 496.53 L424.00 496.65 L424.25 496.46 L424.50 496.46 L424.75 496.41 L425.00 496.36 L425.25 496.07 L425.50 496.38 L425.75 496.12 L426.00 496.46 L426.25 496.69 L426.50 496.20 L426.75 496.12 L427.00 496.31 L427.25 496.55 L427.50 496.37 L427.75 496.08 L428.00 495.79 L428.25 496.08 L428.50 495.78 L428.75 495.81 L429.00 495.51 L429.25 495.51 L429.50 495.74 L429.75 495.17 L430.00 494.87 L430.25 493.88 L430.50 492.66 L430.75 490.84 L431.00 488.59 L431.25 487.31 L431.50 486.62 L431.75 486.48 L432.00 486.91 L432.25 488.14 L432.50 489.51 L432.75 490.78 L433.00 491.80 L433.25 492.77 L433.50 493.48 L433.75 494.33 L434.00 494.31 L434.25 494.77 L434.50 495.14 L434.75 494.89 L435.00 495.24 L435.25 495.36 L435.50 495.58 L435.75 495.30 L436.00 495.14 L436.25 495.01 L436.50 495.34 L436.75 495.31 L437.00 495.11 L437.25 494.99 L437.50 494.79 L437.75 494.45 L438.00 494.22 L438.25 494.55 L438.50 494.42 L438.75 494.77 L439.00 494.56 L439.25 494.39 L439.50 494.43 L439.75 494.22 L440.00 494.19 L440.25 494.56 L440.50 494.79 L440.75 494.85 L441.00 494.58 L441.25 494.13 L441.50 493.06 L441.75 491.20 L442.00 489.70 L442.25 488.77 L442.50 489.51 L442.75 490.66 L443.00 492.16 L443.25 493.22 L443.50 493.46 L443.75 493.04 L444.00 492.94 L444.25 492.11 L444.50 491.87 L444.75 491.98 L445.00 492.38 L445.25 493.13 L445.50 493.83 L445.75 493.74 L446.00 493.87 L446.25 493.68 L446.50 493.69 L446.75 493.58 L447.00 493.31 L447.25 493.14 L447.50 493.03 L447.75 493.45 L448.00 493.50 L448.25 493.33 L448.50 493.68 L448.75 493.98 L449.00 493.68 L449.25 492.84 L449.50 491.60 L449.75 489.93 L450.00 488.66 L450.25 488.12 L450.50 488.64 L450.75 489.74 L451.00 491.16 L451.25 492.53 L451.50 493.35 L451.75 493.58 L452.00 493.66 L452.25 493.71 L452.50 493.60 L452.75 493.41 L453.00 492.87 L453.25 492.29 L453.50 491.97 L453.75 490.98 L454.00 490.72 L454.25 491.16 L454.50 492.16 L454.75 492.65 L455.00 492.99 L455.25 493.08 L455.50 493.14 L455.75 493.18 L456.00 493.56 L456.25 493.77 L456.50 493.90 L456.75 493.25 L457.00 492.49 L457.25 492.04 L457.50 491.63 L457.75 491.17 L458.00 491.36 L458.25 491.56 L458.50 492.21 L458.75 493.05 L459.00 493.51 L459.25 493.77 L459.50 493.98 L459.75 493.52 L460.00 492.93 L460.25 492.45 L460.50 492.46 L460.75 492.78 L461.00 493.29 L461.25 493.46 L461.50 493.42 L461.75 493.31 L462.00 492.75 L462.25 491.75 L462.50 488.99 L462.75 484.27 L463.00 476.72 L463.25 470.73 L463.50 469.92 L463.75 473.90 L464.00 480.02 L464.25 485.52 L464.50 489.26 L464.75 491.23 L465.00 491.74 L465.25 491.74 L465.50 491.75 L465.75 491.48 L466.00 491.09 L466.25 490.99 L466.50 491.42 L466.75 491.02 L467.00 490.21 L467.25 489.38 L467.50 489.68 L467.75 490.42 L468.00 491.60 L468.25 492.30 L468.50 492.52 L468.75 492.53 L469.00 492.95 L469.25 493.04 L469.50 492.69 L469.75 491.92 L470.00 491.25 L470.25 490.64 L470.50 490.21 L470.75 490.23 L471.00 490.79 L471.25 491.19 L471.50 490.14 L471.75 487.00 L472.00 479.51 L472.25 463.71 L472.50 440.32 L472.75 419.81 L473.00 417.40 L473.25 431.23 L473.50 452.01 L473.75 470.15 L474.00 482.18 L474.25 487.92 L474.50 490.87 L474.75 491.93 L475.00 492.44 L475.25 493.07 L475.50 493.15 L475.75 493.62 L476.00 493.65 L476.25 493.43 L476.50 493.27 L476.75 493.28 L477.00 493.47 L477.25 493.84 L477.50 493.55 L477.75 493.50 L478.00 493.34 L478.25 493.75 L478.50 493.47 L478.75 493.16 L479.00 492.83 L479.25 492.65 L479.50 492.56 L479.75 491.84 L480.00 489.60 L480.25 483.95 L480.50 470.96 L480.75 449.38 L481.00 428.03 L481.25 421.93 L481.50 431.16 L481.75 448.12 L482.00 465.99 L482.25 478.88 L482.50 486.30 L482.75 489.94 L483.00 491.55 L483.25 492.21 L483.50 492.72 L483.75 493.07 L484.00 493.71 L484.25 493.58 L484.50 494.06 L484.75 493.89 L485.00 493.84 L485.25 494.08 L485.50 494.12 L485.75 493.48 L486.00 492.06 L486.25 490.60 L486.50 489.24 L486.75 489.23 L487.00 489.59 L487.25 490.70 L487.50 492.31 L487.75 492.96 L488.00 493.58 L488.25 494.19 L488.50 494.52 L488.75 494.20 L489.00 493.93 L489.25 493.73 L489.50 494.19 L489.75 494.08 L490.00 494.33 L490.25 494.57 L490.50 494.19 L490.75 493.53 L491.00 493.14 L491.25 492.46 L491.50 491.94 L491.75 492.33 L492.00 492.75 L492.25 493.28 L492.50 493.53 L492.75 494.20 L493.00 494.74 L493.25 494.91 L493.50 495.24 L493.75 494.83 L494.00 494.65 L494.25 494.66 L494.50 495.02 L494.75 495.30 L495.00 495.12 L495.25 494.88 L495.50 494.81 L495.75 494.80 L496.00 495.11 L496.25 494.82 L496.50 495.03 L496.75 495.16 L497.00 495.32 L497.25 495.41 L497.50 495.37 L497.75 495.13 L498.00 494.93 L498.25 494.80 L498.50 494.96 L498.75 494.50 L499.00 494.06 L499.25 493.90 L499.50 493.30 L499.75 492.80 L500.00 492.64 L500.25 493.11 L500.50 493.47 L500.75 494.26 L501.00 494.78 L501.25 495.22 L501.50 495.00 L501.75 494.68 L502.00 494.42 L502.25 494.49 L502.50 494.70 L502.75 494.67 L503.00 494.43 L503.25 494.24 L503.50 493.96 L503.75 493.45 L504.00 492.90 L504.25 492.71 L504.50 492.87 L504.75 492.99 L505.00 493.84 L505.25 494.18 L505.50 494.59 L505.75 494.67 L506.00 494.93 L506.25 494.71 L506.50 494.56 L506.75 494.42 L507.00 494.25 L507.25 494.64 L507.50 494.73 L507.75 494.62 L508.00 494.58 L508.25 494.98 L508.50 494.95 L508.75 494.72 L509.00 494.96 L509.25 495.04 L509.50 495.34 L509.75 494.95 L510.00 494.90 L510.25 495.13 L510.50 495.33 L510.75 495.54 L511.00 495.09 L511.25 494.91 L511.50 494.64 L511.75 494.46 L512.00 494.81 L512.25 494.66 L512.50 494.53 L512.75 493.77 L513.00 493.47 L513.25 493.21 L513.50 493.33 L513.75 494.15 L514.00 495.00 L514.25 494.98 L514.50 495.20 L514.75 495.32 L515.00 495.09 L515.25 494.97 L515.50 494.57 L515.75 493.99 L516.00 493.03 L516.25 492.00 L516.50 491.11 L516.75 490.65 L517.00 490.87 L517.25 491.84 L517.50 493.16 L517.75 493.85 L518.00 494.35 L518.25 494.52 L518.50 494.98 L518.75 495.13 L519.00 494.89 L519.25 494.72 L519.50 494.80 L519.75 494.97 L520.00 495.18 L520.25 494.96 L520.50 494.83 L520.75 495.12 L521.00 495.13 L521.25 495.05 L521.50 495.00 L521.75 495.43 L522.00 495.31 L522.25 495.39 L522.50 495.31 L522.75 495.29 L523.00 495.59 L523.25 495.93 L523.50 495.75 L523.75 495.48 L524.00 495.65 L524.25 495.41 L524.50 495.07 L524.75 495.44 L525.00 495.40 L525.25 495.65 L525.50 495.55 L525.75 495.82 L526.00 495.73 L526.25 495.44 L526.50 495.10 L526.75 495.22 L527.00 495.38 L527.25 495.70 L527.50 495.36 L527.75 495.48 L528.00 495.39 L528.25 495.41 L528.50 495.18 L528.75 495.08 L529.00 495.18 L529.25 495.55 L529.50 495.26 L529.75 495.30 L530.00 495.56 L530.25 495.88 L530.50 495.59 L530.75 495.30 L531.00 495.66 L531.25 495.97 L531.50 495.86 L531.75 495.47 L532.00 495.78 L532.25 495.65 L532.50 495.91 L532.75 495.91 L533.00 496.06 L533.25 495.71 L533.50 495.87 L533.75 495.59 L534.00 495.47 L534.25 495.66 L534.50 495.74 L534.75 495.26 L535.00 494.83 L535.25 494.61 L535.50 494.59 L535.75 494.59 L536.00 494.53 L536.25 494.62 L536.50 495.05 L536.75 495.50 L537.00 495.21 L537.25 495.33 L537.50 495.55 L537.75 495.21 L538.00 495.51 L538.25 495.23 L538.50 495.36 L538.75 495.42 L539.00 495.50 L539.25 495.32 L539.50 495.20 L539.75 495.17 L540.00 494.97 L540.25 494.98 L540.50 494.89 L540.75 494.90 L541.00 494.69 L541.25 495.00 L541.50 495.16 L541.75 495.09 L542.00 495.39 L542.25 495.63 L542.50 495.58 L542.75 495.33 L543.00 495.35 L543.25 495.09 L543.50 494.91 L543.75 494.98 L544.00 494.79 L544.25 494.89 L544.50 495.02 L544.75 494.78 L545.00 495.03 L545.25 494.82 L545.50 495.12" class="tr"/>
<text x="463.85" y="466.35" class="pl" text-anchor="middle">3</text>
<text x="472.25" y="403.65" class="pl" text-anchor="middle">5</text>
<text x="482.55" y="412.25" class="pl" text-anchor="middle">6</text>
</svg>
</body></html>
